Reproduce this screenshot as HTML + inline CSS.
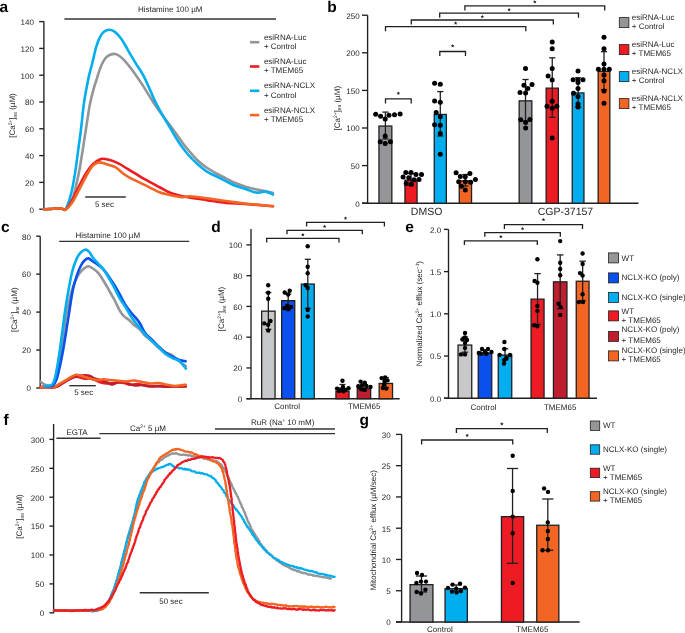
<!DOCTYPE html>
<html><head><meta charset="utf-8"><title>Figure</title>
<style>
html,body{margin:0;padding:0;background:#fff;width:685px;height:633px;overflow:hidden;}
svg{display:block;font-family:"Liberation Sans", sans-serif;text-rendering:geometricPrecision;will-change:transform;}
</style></head><body>
<svg width="685" height="633" viewBox="0 0 685 633" font-family='"Liberation Sans", sans-serif'>
<text x="-0.5" y="12.2" font-size="15.5" text-anchor="start" font-weight="bold" fill="#000">a</text>
<line x1="43.9" y1="21.3" x2="43.9" y2="209.7" stroke="#231f20" stroke-width="1.35" stroke-linecap="butt"/>
<line x1="39.2" y1="209.2" x2="43.9" y2="209.2" stroke="#231f20" stroke-width="1.35" stroke-linecap="butt"/>
<text x="33.9" y="212.5" font-size="8" text-anchor="end" font-weight="normal" fill="#231f20">0</text>
<line x1="39.2" y1="182.4" x2="43.9" y2="182.4" stroke="#231f20" stroke-width="1.35" stroke-linecap="butt"/>
<text x="33.9" y="185.7" font-size="8" text-anchor="end" font-weight="normal" fill="#231f20">20</text>
<line x1="39.2" y1="155.6" x2="43.9" y2="155.6" stroke="#231f20" stroke-width="1.35" stroke-linecap="butt"/>
<text x="33.9" y="158.9" font-size="8" text-anchor="end" font-weight="normal" fill="#231f20">40</text>
<line x1="39.2" y1="128.8" x2="43.9" y2="128.8" stroke="#231f20" stroke-width="1.35" stroke-linecap="butt"/>
<text x="33.9" y="132.1" font-size="8" text-anchor="end" font-weight="normal" fill="#231f20">60</text>
<line x1="39.2" y1="102" x2="43.9" y2="102" stroke="#231f20" stroke-width="1.35" stroke-linecap="butt"/>
<text x="33.9" y="105.3" font-size="8" text-anchor="end" font-weight="normal" fill="#231f20">80</text>
<line x1="39.2" y1="75.2" x2="43.9" y2="75.2" stroke="#231f20" stroke-width="1.35" stroke-linecap="butt"/>
<text x="33.9" y="78.5" font-size="8" text-anchor="end" font-weight="normal" fill="#231f20">100</text>
<line x1="39.2" y1="48.4" x2="43.9" y2="48.4" stroke="#231f20" stroke-width="1.35" stroke-linecap="butt"/>
<text x="33.9" y="51.7" font-size="8" text-anchor="end" font-weight="normal" fill="#231f20">120</text>
<line x1="39.2" y1="21.6" x2="43.9" y2="21.6" stroke="#231f20" stroke-width="1.35" stroke-linecap="butt"/>
<text x="33.9" y="24.9" font-size="8" text-anchor="end" font-weight="normal" fill="#231f20">140</text>
<text transform="translate(15.2,115.5) rotate(-90)" font-size="8" text-anchor="middle" fill="#231f20"><tspan>[Ca</tspan><tspan font-size="4.9" dy="-3">2+</tspan><tspan dy="3">]</tspan><tspan font-size="4.9" dy="1.5">mt</tspan><tspan dy="-1.5"> (µM)</tspan></text>
<line x1="64.4" y1="19" x2="276" y2="19" stroke="#333" stroke-width="1.4" stroke-linecap="butt"/>
<text x="170.2" y="12.4" font-size="8" text-anchor="middle" font-weight="normal" fill="#231f20">Histamine 100 µM</text>
<line x1="85.2" y1="197" x2="125.8" y2="197" stroke="#333" stroke-width="1.4" stroke-linecap="butt"/>
<text x="104.5" y="207" font-size="8" text-anchor="middle" font-weight="normal" fill="#231f20">5 sec</text>
<path d="M44,209.2 C45,209.17 47.75,209.13 50,209 C52.25,208.87 55.5,208.43 57.5,208.4 C59.5,208.37 60.68,208.6 62,208.8 C63.32,209 64.23,210.15 65.4,209.6 C66.57,209.05 68.03,206.85 69,205.5 C69.97,204.15 70.52,202.85 71.2,201.5 C71.88,200.15 72.23,200.25 73.1,197.4 C73.97,194.55 75.32,189.15 76.4,184.4 C77.48,179.65 78.53,174.73 79.6,168.9 C80.67,163.07 81.77,155.88 82.8,149.4 C83.83,142.92 84.97,135.4 85.8,130 C86.63,124.6 87.12,121.3 87.8,117 C88.48,112.7 88.87,109.08 89.9,104.2 C90.93,99.32 92.92,91.73 94,87.7 C95.08,83.67 95.45,83.02 96.4,80 C97.35,76.98 98.55,72.7 99.7,69.6 C100.85,66.5 101.93,63.68 103.3,61.4 C104.67,59.12 105.92,57.13 107.9,55.9 C109.88,54.67 112.9,53.68 115.2,54 C117.5,54.32 119.5,55.95 121.7,57.8 C123.9,59.65 126.17,62.42 128.4,65.1 C130.63,67.78 132.87,70.77 135.1,73.9 C137.33,77.03 139.55,80.43 141.8,83.9 C144.05,87.37 146.35,91.12 148.6,94.7 C150.85,98.28 153.07,102.05 155.3,105.4 C157.53,108.75 159.77,111.78 162,114.8 C164.23,117.82 166.37,120.38 168.7,123.5 C171.03,126.62 173.48,130 176,133.5 C178.52,137 181.47,141.42 183.8,144.5 C186.13,147.58 187.73,149.38 190,152 C192.27,154.62 194.58,157.57 197.4,160.2 C200.22,162.83 203.73,165.58 206.9,167.8 C210.07,170.02 213.23,171.75 216.4,173.5 C219.57,175.25 222.73,176.72 225.9,178.3 C229.07,179.88 232.23,181.65 235.4,183 C238.57,184.35 241.73,185.38 244.9,186.4 C248.07,187.42 251.23,188.37 254.4,189.1 C257.57,189.83 260.8,190.15 263.9,190.8 C267,191.45 271.48,192.63 273,193" fill="none" stroke="#939598" stroke-width="2.6" stroke-linejoin="round" stroke-linecap="round"/>
<path d="M44,209.2 C45,209.17 47.75,209.13 50,209 C52.25,208.87 55.5,208.43 57.5,208.4 C59.5,208.37 60.68,208.6 62,208.8 C63.32,209 64.53,210.1 65.4,209.6 C66.27,209.1 66.68,206.98 67.2,205.8 C67.72,204.62 67.95,204.12 68.5,202.5 C69.05,200.88 69.73,199.12 70.5,196.1 C71.27,193.08 72.23,188.93 73.1,184.4 C73.97,179.87 74.83,174.73 75.7,168.9 C76.57,163.07 77.43,155.88 78.3,149.4 C79.17,142.92 79.98,137.53 80.9,130 C81.82,122.47 82.85,111.25 83.8,104.2 C84.75,97.15 85.68,92.67 86.6,87.7 C87.52,82.73 88.35,78.48 89.3,74.4 C90.25,70.32 91.18,67.67 92.3,63.2 C93.42,58.73 94.77,51.87 96,47.6 C97.23,43.33 98.33,40.27 99.7,37.6 C101.07,34.93 102.57,32.9 104.2,31.6 C105.83,30.3 107.67,29.72 109.5,29.8 C111.33,29.88 113.33,30.73 115.2,32.1 C117.07,33.47 119.05,35.85 120.7,38 C122.35,40.15 123.37,42.05 125.1,45 C126.83,47.95 128.98,52.12 131.1,55.7 C133.22,59.28 135.78,63.25 137.8,66.5 C139.82,69.75 141.4,71.85 143.2,75.2 C145,78.55 146.82,82.68 148.6,86.6 C150.38,90.52 152.12,94.9 153.9,98.7 C155.68,102.5 157.5,106.05 159.3,109.4 C161.1,112.75 162.92,115.77 164.7,118.8 C166.48,121.83 168.2,124.57 170,127.6 C171.8,130.63 173.6,133.92 175.5,137 C177.4,140.08 179.32,143.18 181.4,146.1 C183.48,149.02 185.33,151.52 188,154.5 C190.67,157.48 194.25,161.15 197.4,164 C200.55,166.85 203.73,169.53 206.9,171.6 C210.07,173.67 213.23,174.82 216.4,176.4 C219.57,177.98 222.73,179.53 225.9,181.1 C229.07,182.67 232.23,184.53 235.4,185.8 C238.57,187.07 241.73,187.62 244.9,188.7 C248.07,189.78 251.88,191.67 254.4,192.3 C256.92,192.93 258.07,192.62 260,192.5 C261.93,192.38 263.83,191.25 266,191.6 C268.17,191.95 271.83,194.1 273,194.6" fill="none" stroke="#00aeef" stroke-width="2.6" stroke-linejoin="round" stroke-linecap="round"/>
<path d="M44,209.2 C45,209.17 47.75,209.13 50,209 C52.25,208.87 55.5,208.43 57.5,208.4 C59.5,208.37 60.68,208.6 62,208.8 C63.32,209 63.82,210.85 65.4,209.6 C66.98,208.35 69.32,205.02 71.5,201.3 C73.68,197.58 76.17,191.82 78.5,187.3 C80.83,182.78 83.15,178 85.5,174.2 C87.85,170.4 89.97,167.05 92.6,164.5 C95.23,161.95 98.4,159.63 101.3,158.9 C104.2,158.17 107.08,159.3 110,160.1 C112.92,160.9 115.87,162.23 118.8,163.7 C121.73,165.17 124.67,167.15 127.6,168.9 C130.53,170.65 133.48,172.45 136.4,174.2 C139.32,175.95 141.17,177.18 145.1,179.4 C149.03,181.62 156.02,185.35 160,187.5 C163.98,189.65 165.92,191 169,192.3 C172.08,193.6 175.33,194.48 178.5,195.3 C181.67,196.12 183.27,196.4 188,197.2 C192.73,198 200.58,199.15 206.9,200.1 C213.22,201.05 219.57,202.25 225.9,202.9 C232.23,203.55 237.05,203.45 244.9,204 C252.75,204.55 268.32,205.83 273,206.2" fill="none" stroke="#ed1c24" stroke-width="2.6" stroke-linejoin="round" stroke-linecap="round"/>
<path d="M44,209.2 C45,209.17 47.75,209.13 50,209 C52.25,208.87 55.5,208.43 57.5,208.4 C59.5,208.37 60.68,208.6 62,208.8 C63.32,209 63.67,210.7 65.4,209.6 C67.13,208.5 69.92,205.92 72.4,202.2 C74.88,198.48 77.82,191.97 80.3,187.3 C82.78,182.63 85.25,177.77 87.3,174.2 C89.35,170.63 90.7,167.87 92.6,165.9 C94.5,163.93 96.37,162.68 98.7,162.4 C101.03,162.12 103.83,163.4 106.6,164.2 C109.37,165 112.38,165.53 115.3,167.2 C118.22,168.87 121.17,172.17 124.1,174.2 C127.03,176.23 129.4,177.57 132.9,179.4 C136.4,181.23 140.67,183.05 145.1,185.2 C149.53,187.35 155.52,190.7 159.5,192.3 C163.48,193.9 165.2,193.98 169,194.8 C172.8,195.62 178.82,196.95 182.3,197.2 C185.78,197.45 185.8,196.13 189.9,196.3 C194,196.47 200.9,197.42 206.9,198.2 C212.9,198.98 219.57,200.12 225.9,201 C232.23,201.88 237.05,202.63 244.9,203.5 C252.75,204.37 268.32,205.75 273,206.2" fill="none" stroke="#f26522" stroke-width="2.6" stroke-linejoin="round" stroke-linecap="round"/>
<line x1="250" y1="42.2" x2="259.3" y2="42.2" stroke="#939598" stroke-width="2.6" stroke-linecap="butt"/>
<text x="263.9" y="39.8" font-size="8" text-anchor="start" font-weight="normal" fill="#231f20">esiRNA-Luc</text>
<text x="263.9" y="49.1" font-size="8" text-anchor="start" font-weight="normal" fill="#231f20">+ Control</text>
<line x1="250" y1="66.5" x2="259.3" y2="66.5" stroke="#ed1c24" stroke-width="2.6" stroke-linecap="butt"/>
<text x="263.9" y="64.1" font-size="8" text-anchor="start" font-weight="normal" fill="#231f20">esiRNA-Luc</text>
<text x="263.9" y="73.4" font-size="8" text-anchor="start" font-weight="normal" fill="#231f20">+ TMEM65</text>
<line x1="250" y1="90.8" x2="259.3" y2="90.8" stroke="#00aeef" stroke-width="2.6" stroke-linecap="butt"/>
<text x="263.9" y="88.4" font-size="8" text-anchor="start" font-weight="normal" fill="#231f20">esiRNA-NCLX</text>
<text x="263.9" y="97.7" font-size="8" text-anchor="start" font-weight="normal" fill="#231f20">+ Control</text>
<line x1="250" y1="115.1" x2="259.3" y2="115.1" stroke="#f26522" stroke-width="2.6" stroke-linecap="butt"/>
<text x="263.9" y="112.7" font-size="8" text-anchor="start" font-weight="normal" fill="#231f20">esiRNA-NCLX</text>
<text x="263.9" y="122" font-size="8" text-anchor="start" font-weight="normal" fill="#231f20">+ TMEM65</text>
<text x="327.3" y="12.2" font-size="15.5" text-anchor="start" font-weight="bold" fill="#000">b</text>
<line x1="367.6" y1="15.2" x2="367.6" y2="203.2" stroke="#231f20" stroke-width="1.35" stroke-linecap="butt"/>
<line x1="362" y1="203.2" x2="367.6" y2="203.2" stroke="#231f20" stroke-width="1.35" stroke-linecap="butt"/>
<text x="359.7" y="206.5" font-size="8" text-anchor="end" font-weight="normal" fill="#231f20">0</text>
<line x1="362" y1="165.6" x2="367.6" y2="165.6" stroke="#231f20" stroke-width="1.35" stroke-linecap="butt"/>
<text x="359.7" y="168.9" font-size="8" text-anchor="end" font-weight="normal" fill="#231f20">50</text>
<line x1="362" y1="128" x2="367.6" y2="128" stroke="#231f20" stroke-width="1.35" stroke-linecap="butt"/>
<text x="359.7" y="131.3" font-size="8" text-anchor="end" font-weight="normal" fill="#231f20">100</text>
<line x1="362" y1="90.4" x2="367.6" y2="90.4" stroke="#231f20" stroke-width="1.35" stroke-linecap="butt"/>
<text x="359.7" y="93.7" font-size="8" text-anchor="end" font-weight="normal" fill="#231f20">150</text>
<line x1="362" y1="52.8" x2="367.6" y2="52.8" stroke="#231f20" stroke-width="1.35" stroke-linecap="butt"/>
<text x="359.7" y="56.1" font-size="8" text-anchor="end" font-weight="normal" fill="#231f20">200</text>
<line x1="362" y1="15.2" x2="367.6" y2="15.2" stroke="#231f20" stroke-width="1.35" stroke-linecap="butt"/>
<text x="359.7" y="18.5" font-size="8" text-anchor="end" font-weight="normal" fill="#231f20">250</text>
<line x1="362" y1="203.2" x2="638.5" y2="203.2" stroke="#231f20" stroke-width="1.35" stroke-linecap="butt"/>
<text transform="translate(339.7,108.2) rotate(-90)" font-size="8" text-anchor="middle" fill="#231f20"><tspan>[Ca</tspan><tspan font-size="4.9" dy="-3">2+</tspan><tspan dy="3">]</tspan><tspan font-size="4.9" dy="1.5">mt</tspan><tspan dy="-1.5"> (µM)</tspan></text>
<text x="426.6" y="214.5" font-size="10.5" text-anchor="middle" font-weight="normal" fill="#231f20">DMSO</text>
<text x="565.5" y="214.5" font-size="10.5" text-anchor="middle" font-weight="normal" fill="#231f20">CGP-37157</text>
<rect x="378.95" y="126.05" width="12.9" height="77.15" fill="#939598" stroke="#231f20" stroke-width="1.3"/>
<rect x="404.95" y="180.15" width="12.1" height="23.05" fill="#ed1c24" stroke="#231f20" stroke-width="1.3"/>
<rect x="434.25" y="114.45" width="12.1" height="88.75" fill="#00aeef" stroke="#231f20" stroke-width="1.3"/>
<rect x="459.25" y="180.85" width="12.3" height="22.35" fill="#f26522" stroke="#231f20" stroke-width="1.3"/>
<rect x="519.15" y="100.85" width="12.7" height="102.35" fill="#939598" stroke="#231f20" stroke-width="1.3"/>
<rect x="546.15" y="88.15" width="12.2" height="115.05" fill="#ed1c24" stroke="#231f20" stroke-width="1.3"/>
<rect x="572.25" y="92.95" width="11.7" height="110.25" fill="#00aeef" stroke="#231f20" stroke-width="1.3"/>
<rect x="598.15" y="71.35" width="11.7" height="131.85" fill="#f26522" stroke="#231f20" stroke-width="1.3"/>
<line x1="385.4" y1="112.1" x2="385.4" y2="138.9" stroke="#231f20" stroke-width="1.3" stroke-linecap="butt"/>
<line x1="382.3" y1="112.1" x2="388.5" y2="112.1" stroke="#231f20" stroke-width="1.3" stroke-linecap="butt"/>
<line x1="382.3" y1="138.9" x2="388.5" y2="138.9" stroke="#231f20" stroke-width="1.3" stroke-linecap="butt"/>
<line x1="411" y1="173.5" x2="411" y2="185.5" stroke="#231f20" stroke-width="1.3" stroke-linecap="butt"/>
<line x1="407.9" y1="173.5" x2="414.1" y2="173.5" stroke="#231f20" stroke-width="1.3" stroke-linecap="butt"/>
<line x1="407.9" y1="185.5" x2="414.1" y2="185.5" stroke="#231f20" stroke-width="1.3" stroke-linecap="butt"/>
<line x1="440.3" y1="91.6" x2="440.3" y2="136" stroke="#231f20" stroke-width="1.3" stroke-linecap="butt"/>
<line x1="437.2" y1="91.6" x2="443.4" y2="91.6" stroke="#231f20" stroke-width="1.3" stroke-linecap="butt"/>
<line x1="437.2" y1="136" x2="443.4" y2="136" stroke="#231f20" stroke-width="1.3" stroke-linecap="butt"/>
<line x1="465.4" y1="174.5" x2="465.4" y2="186" stroke="#231f20" stroke-width="1.3" stroke-linecap="butt"/>
<line x1="462.3" y1="174.5" x2="468.5" y2="174.5" stroke="#231f20" stroke-width="1.3" stroke-linecap="butt"/>
<line x1="462.3" y1="186" x2="468.5" y2="186" stroke="#231f20" stroke-width="1.3" stroke-linecap="butt"/>
<line x1="525.5" y1="79.5" x2="525.5" y2="120.9" stroke="#231f20" stroke-width="1.3" stroke-linecap="butt"/>
<line x1="522.4" y1="79.5" x2="528.6" y2="79.5" stroke="#231f20" stroke-width="1.3" stroke-linecap="butt"/>
<line x1="522.4" y1="120.9" x2="528.6" y2="120.9" stroke="#231f20" stroke-width="1.3" stroke-linecap="butt"/>
<line x1="552.25" y1="57.8" x2="552.25" y2="117.3" stroke="#231f20" stroke-width="1.3" stroke-linecap="butt"/>
<line x1="549.15" y1="57.8" x2="555.35" y2="57.8" stroke="#231f20" stroke-width="1.3" stroke-linecap="butt"/>
<line x1="549.15" y1="117.3" x2="555.35" y2="117.3" stroke="#231f20" stroke-width="1.3" stroke-linecap="butt"/>
<line x1="578.1" y1="77.8" x2="578.1" y2="106.8" stroke="#231f20" stroke-width="1.3" stroke-linecap="butt"/>
<line x1="575" y1="77.8" x2="581.2" y2="77.8" stroke="#231f20" stroke-width="1.3" stroke-linecap="butt"/>
<line x1="575" y1="106.8" x2="581.2" y2="106.8" stroke="#231f20" stroke-width="1.3" stroke-linecap="butt"/>
<line x1="604" y1="51.7" x2="604" y2="89.7" stroke="#231f20" stroke-width="1.3" stroke-linecap="butt"/>
<line x1="600.9" y1="51.7" x2="607.1" y2="51.7" stroke="#231f20" stroke-width="1.3" stroke-linecap="butt"/>
<line x1="600.9" y1="89.7" x2="607.1" y2="89.7" stroke="#231f20" stroke-width="1.3" stroke-linecap="butt"/>
<circle cx="375.7" cy="114.2" r="2.5" fill="#000"/>
<circle cx="380.6" cy="116.3" r="2.5" fill="#000"/>
<circle cx="385.2" cy="119" r="2.5" fill="#000"/>
<circle cx="389" cy="115.2" r="2.5" fill="#000"/>
<circle cx="394.5" cy="114.7" r="2.5" fill="#000"/>
<circle cx="400.1" cy="114" r="2.5" fill="#000"/>
<circle cx="385.2" cy="136" r="2.5" fill="#000"/>
<circle cx="380.2" cy="141.7" r="2.5" fill="#000"/>
<circle cx="385.2" cy="143.6" r="2.5" fill="#000"/>
<circle cx="390.4" cy="141.7" r="2.5" fill="#000"/>
<circle cx="405.8" cy="172.5" r="2.5" fill="#000"/>
<circle cx="411" cy="172.5" r="2.5" fill="#000"/>
<circle cx="416" cy="174.5" r="2.5" fill="#000"/>
<circle cx="421.5" cy="174.6" r="2.5" fill="#000"/>
<circle cx="403.1" cy="177" r="2.5" fill="#000"/>
<circle cx="408.8" cy="177.7" r="2.5" fill="#000"/>
<circle cx="414" cy="179.7" r="2.5" fill="#000"/>
<circle cx="419" cy="179.4" r="2.5" fill="#000"/>
<circle cx="406.2" cy="183.6" r="2.5" fill="#000"/>
<circle cx="411.4" cy="184.3" r="2.5" fill="#000"/>
<circle cx="434.6" cy="83.2" r="2.5" fill="#000"/>
<circle cx="440.3" cy="84.2" r="2.5" fill="#000"/>
<circle cx="434.6" cy="101" r="2.5" fill="#000"/>
<circle cx="440.3" cy="102.2" r="2.5" fill="#000"/>
<circle cx="436.2" cy="112.6" r="2.5" fill="#000"/>
<circle cx="440.3" cy="116.8" r="2.5" fill="#000"/>
<circle cx="434.6" cy="124.7" r="2.5" fill="#000"/>
<circle cx="440.3" cy="125.3" r="2.5" fill="#000"/>
<circle cx="440.3" cy="133.5" r="2.5" fill="#000"/>
<circle cx="440.3" cy="154.3" r="2.5" fill="#000"/>
<circle cx="456.1" cy="172.7" r="2.5" fill="#000"/>
<circle cx="469.9" cy="173.5" r="2.5" fill="#000"/>
<circle cx="460.3" cy="176.4" r="2.5" fill="#000"/>
<circle cx="465.3" cy="176.7" r="2.5" fill="#000"/>
<circle cx="475.4" cy="179.4" r="2.5" fill="#000"/>
<circle cx="458.7" cy="181.7" r="2.5" fill="#000"/>
<circle cx="465.3" cy="181.7" r="2.5" fill="#000"/>
<circle cx="470.6" cy="182.3" r="2.5" fill="#000"/>
<circle cx="461.4" cy="186.3" r="2.5" fill="#000"/>
<circle cx="465.3" cy="190" r="2.5" fill="#000"/>
<circle cx="525.5" cy="68.5" r="2.5" fill="#000"/>
<circle cx="523.9" cy="85.3" r="2.5" fill="#000"/>
<circle cx="532" cy="84.5" r="2.5" fill="#000"/>
<circle cx="527.8" cy="88.4" r="2.5" fill="#000"/>
<circle cx="520" cy="92.4" r="2.5" fill="#000"/>
<circle cx="525.6" cy="93" r="2.5" fill="#000"/>
<circle cx="520.7" cy="119.7" r="2.5" fill="#000"/>
<circle cx="529.9" cy="119.4" r="2.5" fill="#000"/>
<circle cx="525.6" cy="122.6" r="2.5" fill="#000"/>
<circle cx="525.6" cy="128" r="2.5" fill="#000"/>
<circle cx="552.2" cy="42" r="2.5" fill="#000"/>
<circle cx="552.2" cy="48.7" r="2.5" fill="#000"/>
<circle cx="552.2" cy="68.5" r="2.5" fill="#000"/>
<circle cx="548.1" cy="75.9" r="2.5" fill="#000"/>
<circle cx="552.2" cy="79.9" r="2.5" fill="#000"/>
<circle cx="552.2" cy="101.2" r="2.5" fill="#000"/>
<circle cx="547" cy="106.2" r="2.5" fill="#000"/>
<circle cx="556.9" cy="106.2" r="2.5" fill="#000"/>
<circle cx="552.2" cy="108.3" r="2.5" fill="#000"/>
<circle cx="552.2" cy="137.9" r="2.5" fill="#000"/>
<circle cx="578" cy="71.1" r="2.5" fill="#000"/>
<circle cx="573.1" cy="79.7" r="2.5" fill="#000"/>
<circle cx="578" cy="79.7" r="2.5" fill="#000"/>
<circle cx="583" cy="79.7" r="2.5" fill="#000"/>
<circle cx="578" cy="82.4" r="2.5" fill="#000"/>
<circle cx="578" cy="88.4" r="2.5" fill="#000"/>
<circle cx="573.5" cy="93.2" r="2.5" fill="#000"/>
<circle cx="578" cy="96.4" r="2.5" fill="#000"/>
<circle cx="578" cy="104" r="2.5" fill="#000"/>
<circle cx="578" cy="107" r="2.5" fill="#000"/>
<circle cx="604" cy="37.2" r="2.5" fill="#000"/>
<circle cx="604" cy="48.7" r="2.5" fill="#000"/>
<circle cx="604" cy="64.1" r="2.5" fill="#000"/>
<circle cx="598.4" cy="69.2" r="2.5" fill="#000"/>
<circle cx="604" cy="69.2" r="2.5" fill="#000"/>
<circle cx="609.3" cy="69.2" r="2.5" fill="#000"/>
<circle cx="604" cy="74.9" r="2.5" fill="#000"/>
<circle cx="604" cy="80.8" r="2.5" fill="#000"/>
<circle cx="604" cy="90.9" r="2.5" fill="#000"/>
<circle cx="604" cy="103.3" r="2.5" fill="#000"/>
<polyline points="385.5,103.5 385.5,98.9 411.2,98.9 411.2,103.5" fill="none" stroke="#231f20" stroke-width="1.3"/>
<polygon points="398.35,91.4 398.85,92.61 400.16,92.71 399.16,93.56 399.47,94.84 398.35,94.15 397.23,94.84 397.54,93.56 396.54,92.71 397.85,92.61" fill="#231f20"/>
<polyline points="439.8,56.1 439.8,51.5 465.5,51.5 465.5,56.1" fill="none" stroke="#231f20" stroke-width="1.3"/>
<polygon points="452.65,44 453.15,45.21 454.46,45.31 453.46,46.16 453.77,47.44 452.65,46.75 451.53,47.44 451.84,46.16 450.84,45.31 452.15,45.21" fill="#231f20"/>
<polyline points="385.5,31.2 385.5,26.6 525.8,26.6 525.8,31.2" fill="none" stroke="#231f20" stroke-width="1.3"/>
<polygon points="455.65,21.3 456.15,22.51 457.46,22.61 456.46,23.46 456.77,24.74 455.65,24.05 454.53,24.74 454.84,23.46 453.84,22.61 455.15,22.51" fill="#231f20"/>
<polyline points="411.3,24.5 411.3,20 553.3,20 553.3,24.5" fill="none" stroke="#231f20" stroke-width="1.3"/>
<polygon points="482.3,14.7 482.8,15.91 484.11,16.01 483.11,16.86 483.42,18.14 482.3,17.45 481.18,18.14 481.49,16.86 480.49,16.01 481.8,15.91" fill="#231f20"/>
<polyline points="439.7,17.7 439.7,13.2 578.5,13.2 578.5,17.7" fill="none" stroke="#231f20" stroke-width="1.3"/>
<polygon points="509.1,7.7 509.6,8.91 510.91,9.01 509.91,9.86 510.22,11.14 509.1,10.45 507.98,11.14 508.29,9.86 507.29,9.01 508.6,8.91" fill="#231f20"/>
<polyline points="464.9,10.4 464.9,5.8 604.7,5.8 604.7,10.4" fill="none" stroke="#231f20" stroke-width="1.3"/>
<polygon points="534.8,0.1 535.3,1.31 536.61,1.41 535.61,2.26 535.92,3.54 534.8,2.85 533.68,3.54 533.99,2.26 532.99,1.41 534.3,1.31" fill="#231f20"/>
<rect x="619.3" y="17.6" width="9.6" height="10" fill="#939598" stroke="#231f20" stroke-width="0.8"/>
<text x="631.8" y="20" font-size="8" text-anchor="start" font-weight="normal" fill="#231f20">esiRNA-Luc</text>
<text x="631.8" y="29.4" font-size="8" text-anchor="start" font-weight="normal" fill="#231f20">+ Control</text>
<rect x="619.3" y="44.6" width="9.6" height="10" fill="#ed1c24" stroke="#231f20" stroke-width="0.8"/>
<text x="631.8" y="47" font-size="8" text-anchor="start" font-weight="normal" fill="#231f20">esiRNA-Luc</text>
<text x="631.8" y="56.4" font-size="8" text-anchor="start" font-weight="normal" fill="#231f20">+ TMEM65</text>
<rect x="619.3" y="71.6" width="9.6" height="10" fill="#00aeef" stroke="#231f20" stroke-width="0.8"/>
<text x="631.8" y="74" font-size="8" text-anchor="start" font-weight="normal" fill="#231f20">esiRNA-NCLX</text>
<text x="631.8" y="83.4" font-size="8" text-anchor="start" font-weight="normal" fill="#231f20">+ Control</text>
<rect x="619.3" y="98.6" width="9.6" height="10" fill="#f26522" stroke="#231f20" stroke-width="0.8"/>
<text x="631.8" y="101" font-size="8" text-anchor="start" font-weight="normal" fill="#231f20">esiRNA-NCLX</text>
<text x="631.8" y="110.4" font-size="8" text-anchor="start" font-weight="normal" fill="#231f20">+ TMEM65</text>
<text x="1" y="231.6" font-size="15.5" text-anchor="start" font-weight="bold" fill="#000">c</text>
<line x1="40.2" y1="236.2" x2="40.2" y2="388.5" stroke="#231f20" stroke-width="1.35" stroke-linecap="butt"/>
<line x1="36.2" y1="388" x2="40.2" y2="388" stroke="#231f20" stroke-width="1.35" stroke-linecap="butt"/>
<text x="30.9" y="391.3" font-size="8" text-anchor="end" font-weight="normal" fill="#231f20">0</text>
<line x1="36.2" y1="350.05" x2="40.2" y2="350.05" stroke="#231f20" stroke-width="1.35" stroke-linecap="butt"/>
<text x="30.9" y="353.35" font-size="8" text-anchor="end" font-weight="normal" fill="#231f20">20</text>
<line x1="36.2" y1="312.1" x2="40.2" y2="312.1" stroke="#231f20" stroke-width="1.35" stroke-linecap="butt"/>
<text x="30.9" y="315.4" font-size="8" text-anchor="end" font-weight="normal" fill="#231f20">40</text>
<line x1="36.2" y1="274.15" x2="40.2" y2="274.15" stroke="#231f20" stroke-width="1.35" stroke-linecap="butt"/>
<text x="30.9" y="277.45" font-size="8" text-anchor="end" font-weight="normal" fill="#231f20">60</text>
<line x1="36.2" y1="236.2" x2="40.2" y2="236.2" stroke="#231f20" stroke-width="1.35" stroke-linecap="butt"/>
<text x="30.9" y="239.5" font-size="8" text-anchor="end" font-weight="normal" fill="#231f20">80</text>
<text transform="translate(17,309.7) rotate(-90)" font-size="8" text-anchor="middle" fill="#231f20"><tspan>[Ca</tspan><tspan font-size="4.9" dy="-3">2+</tspan><tspan dy="3">]</tspan><tspan font-size="4.9" dy="1.5">mt</tspan><tspan dy="-1.5"> (µM)</tspan></text>
<line x1="59.2" y1="241.4" x2="189.2" y2="241.4" stroke="#333" stroke-width="1.2" stroke-linecap="butt"/>
<text x="107.8" y="237.6" font-size="8" text-anchor="middle" font-weight="normal" fill="#231f20">Histamine 100 µM</text>
<line x1="69.3" y1="385.7" x2="95.8" y2="385.7" stroke="#333" stroke-width="1.4" stroke-linecap="butt"/>
<text x="83.7" y="395" font-size="8" text-anchor="middle" font-weight="normal" fill="#231f20">5 sec</text>
<path d="M40.5,387.1 C41.75,387.12 45.5,387.2 48,387.2 C50.5,387.2 52.88,387.88 55.5,387.1 C58.12,386.32 61.28,383.93 63.7,382.5 C66.12,381.07 68.12,379.5 70,378.5 C71.88,377.5 73.33,376.67 75,376.5 C76.67,376.33 78.38,377.13 80,377.5 C81.62,377.87 83.2,378.53 84.7,378.7 C86.2,378.87 87.25,378.28 89,378.5 C90.75,378.72 93.37,379.37 95.2,380 C97.03,380.63 98.2,381.72 100,382.3 C101.8,382.88 104,383.33 106,383.5 C108,383.67 110,383.47 112,383.3 C114,383.13 116,382.55 118,382.5 C120,382.45 122,382.62 124,383 C126,383.38 127.83,384.63 130,384.8 C132.17,384.97 134.5,383.88 137,384 C139.5,384.12 142.5,385.12 145,385.5 C147.5,385.88 149.5,386.22 152,386.3 C154.5,386.38 157.33,385.97 160,386 C162.67,386.03 165.33,386.42 168,386.5 C170.67,386.58 173.05,386.5 176,386.5 C178.95,386.5 184.08,386.5 185.7,386.5" fill="none" stroke="#ed1c24" stroke-width="2.6" stroke-linejoin="round" stroke-linecap="round"/>
<path d="M40.5,387.1 C41.75,387.12 45.5,387.2 48,387.2 C50.5,387.2 52.88,387.88 55.5,387.1 C58.12,386.32 60.78,384.1 63.7,382.5 C66.62,380.9 70.28,378.62 73,377.5 C75.72,376.38 78.05,376.18 80,375.8 C81.95,375.42 83.13,375.2 84.7,375.2 C86.27,375.2 87.65,375.22 89.4,375.8 C91.15,376.38 92.87,377.83 95.2,378.7 C97.53,379.57 101.27,380.32 103.4,381 C105.53,381.68 106.63,382.22 108,382.8 C109.37,383.38 110.27,384.47 111.6,384.5 C112.93,384.53 114.27,383.5 116,383 C117.73,382.5 120,381.42 122,381.5 C124,381.58 125.83,382.83 128,383.5 C130.17,384.17 132.67,385.25 135,385.5 C137.33,385.75 139.5,384.87 142,385 C144.5,385.13 147.33,386.1 150,386.3 C152.67,386.5 155.33,386.15 158,386.2 C160.67,386.25 163.17,386.55 166,386.6 C168.83,386.65 171.72,386.55 175,386.5 C178.28,386.45 183.92,386.33 185.7,386.3" fill="none" stroke="#be1e2d" stroke-width="2.6" stroke-linejoin="round" stroke-linecap="round"/>
<path d="M40.5,387.1 C41.75,387.1 45.62,387.1 48,387.1 C50.38,387.1 53.23,387.43 54.8,387.1 C56.37,386.77 55.67,386.18 57.4,385.1 C59.13,384.02 62.82,382 65.2,380.6 C67.58,379.2 69.87,377.67 71.7,376.7 C73.53,375.73 74.48,374.9 76.2,374.8 C77.92,374.7 80.03,375.57 82,376.1 C83.97,376.63 85.6,377.33 88,378 C90.4,378.67 93.83,379.88 96.4,380.1 C98.97,380.32 101.13,379.32 103.4,379.3 C105.67,379.28 107.57,379.75 110,380 C112.43,380.25 115.33,380.55 118,380.8 C120.67,381.05 123.33,381.55 126,381.5 C128.67,381.45 131.33,380.42 134,380.5 C136.67,380.58 139.33,381.5 142,382 C144.67,382.5 147.33,383.33 150,383.5 C152.67,383.67 155.33,382.83 158,383 C160.67,383.17 163.17,384 166,384.5 C168.83,385 172.5,385.88 175,386 C177.5,386.12 179.22,385.4 181,385.2 C182.78,385 184.92,384.87 185.7,384.8" fill="none" stroke="#f26522" stroke-width="2.6" stroke-linejoin="round" stroke-linecap="round"/>
<path d="M40.5,381.6 C41.17,382.08 43.18,383.8 44.5,384.5 C45.82,385.2 47.15,385.63 48.4,385.8 C49.65,385.97 50.9,386.3 52,385.5 C53.1,384.7 54,383.58 55,381 C56,378.42 57.08,374.33 58,370 C58.92,365.67 59.62,360.33 60.5,355 C61.38,349.67 62.45,344 63.3,338 C64.15,332 64.68,324.8 65.6,319 C66.52,313.2 67.6,308.47 68.8,303.2 C70,297.93 71.35,291.88 72.8,287.4 C74.25,282.92 75.93,279.2 77.5,276.3 C79.07,273.4 80.95,271.42 82.2,270 C83.45,268.58 83.97,268.43 85,267.8 C86.03,267.17 87.07,266.08 88.4,266.2 C89.73,266.32 91.33,267.33 93,268.5 C94.67,269.67 96.6,271.08 98.4,273.2 C100.2,275.32 102,278.3 103.8,281.2 C105.6,284.1 107.42,287.47 109.2,290.6 C110.98,293.73 112.72,296.63 114.5,300 C116.28,303.37 118.33,308.12 119.9,310.8 C121.47,313.48 122.33,314.53 123.9,316.1 C125.47,317.67 127.5,318.63 129.3,320.2 C131.1,321.77 132.92,323.95 134.7,325.5 C136.48,327.05 138.27,327.8 140,329.5 C141.73,331.2 143.12,333.78 145.1,335.7 C147.08,337.62 149.65,339 151.9,341 C154.15,343 156.37,345.78 158.6,347.7 C160.83,349.62 163.28,351.37 165.3,352.5 C167.32,353.63 168.92,353.5 170.7,354.5 C172.48,355.5 174.28,357.17 176,358.5 C177.72,359.83 179.38,361.25 181,362.5 C182.62,363.75 184.92,365.42 185.7,366" fill="none" stroke="#939598" stroke-width="2.6" stroke-linejoin="round" stroke-linecap="round"/>
<path d="M44.5,386.2 C45.42,386.2 48.5,386.38 50,386.2 C51.5,386.02 52.37,386.35 53.5,385.1 C54.63,383.85 55.72,381.93 56.8,378.7 C57.88,375.47 58.92,370.67 60,365.7 C61.08,360.73 62.22,354.95 63.3,348.9 C64.38,342.85 65.43,336.05 66.5,329.4 C67.57,322.75 68.65,315.57 69.7,309 C70.75,302.43 71.63,295.53 72.8,290 C73.97,284.47 75.38,279.8 76.7,275.8 C78.02,271.8 79.4,268.55 80.7,266 C82,263.45 83.22,261.77 84.5,260.5 C85.78,259.23 86.98,258.23 88.4,258.4 C89.82,258.57 91.33,260.38 93,261.5 C94.67,262.62 96.6,263.72 98.4,265.1 C100.2,266.48 102,267.78 103.8,269.8 C105.6,271.82 107.42,274.62 109.2,277.2 C110.98,279.78 112.72,282.38 114.5,285.3 C116.28,288.22 118.1,291.47 119.9,294.7 C121.7,297.93 123.52,301.8 125.3,304.7 C127.08,307.6 128.82,309.85 130.6,312.1 C132.38,314.35 134.43,316.3 136,318.2 C137.57,320.1 138.48,321.03 140,323.5 C141.52,325.97 143.12,330.3 145.1,333 C147.08,335.7 149.65,337.47 151.9,339.7 C154.15,341.93 156.37,344.27 158.6,346.4 C160.83,348.53 163.07,350.82 165.3,352.5 C167.53,354.18 169.77,355.28 172,356.5 C174.23,357.72 176.87,359.08 178.7,359.8 C180.53,360.52 181.83,360.57 183,360.8 C184.17,361.03 185.25,361.13 185.7,361.2" fill="none" stroke="#0a50ee" stroke-width="2.6" stroke-linejoin="round" stroke-linecap="round"/>
<path d="M44.5,386.2 C45.15,386.13 47.12,386.08 48.4,385.8 C49.68,385.52 51.13,385.68 52.2,384.5 C53.27,383.32 53.93,381.83 54.8,378.7 C55.67,375.57 56.53,370.67 57.4,365.7 C58.27,360.73 59.13,354.95 60,348.9 C60.87,342.85 61.73,335.88 62.6,329.4 C63.47,322.92 64.17,316.82 65.2,310 C66.23,303.18 67.67,294.75 68.8,288.5 C69.93,282.25 70.82,277.17 72,272.5 C73.18,267.83 74.58,263.68 75.9,260.5 C77.22,257.32 78.38,255.2 79.9,253.4 C81.42,251.6 83.48,249.98 85,249.7 C86.52,249.42 87.67,250.37 89,251.7 C90.33,253.03 91.43,255.68 93,257.7 C94.57,259.72 96.6,261.78 98.4,263.8 C100.2,265.82 102,267.33 103.8,269.8 C105.6,272.27 107.42,275.57 109.2,278.6 C110.98,281.63 112.72,284.65 114.5,288 C116.28,291.35 118.12,295.62 119.9,298.7 C121.68,301.78 123.35,303.53 125.2,306.5 C127.05,309.47 129.03,313.5 131,316.5 C132.97,319.5 134.65,321.53 137,324.5 C139.35,327.47 142.62,331.55 145.1,334.3 C147.58,337.05 149.65,338.87 151.9,341 C154.15,343.13 156.37,344.97 158.6,347.1 C160.83,349.23 163.07,352.02 165.3,353.8 C167.53,355.58 169.77,356.68 172,357.8 C174.23,358.92 177.13,359.6 178.7,360.5 C180.27,361.4 180.38,362.08 181.4,363.2 C182.42,364.32 184.05,366.3 184.8,367.2 C185.55,368.1 185.72,368.37 185.9,368.6" fill="none" stroke="#00aeef" stroke-width="2.6" stroke-linejoin="round" stroke-linecap="round"/>
<text x="211.3" y="231.7" font-size="15.5" text-anchor="start" font-weight="bold" fill="#000">d</text>
<line x1="251" y1="229" x2="251" y2="398.7" stroke="#231f20" stroke-width="1.35" stroke-linecap="butt"/>
<line x1="246.4" y1="398.7" x2="251" y2="398.7" stroke="#231f20" stroke-width="1.35" stroke-linecap="butt"/>
<text x="242.1" y="402" font-size="8" text-anchor="end" font-weight="normal" fill="#231f20">0</text>
<line x1="246.4" y1="367.94" x2="251" y2="367.94" stroke="#231f20" stroke-width="1.35" stroke-linecap="butt"/>
<text x="242.1" y="371.24" font-size="8" text-anchor="end" font-weight="normal" fill="#231f20">20</text>
<line x1="246.4" y1="337.18" x2="251" y2="337.18" stroke="#231f20" stroke-width="1.35" stroke-linecap="butt"/>
<text x="242.1" y="340.48" font-size="8" text-anchor="end" font-weight="normal" fill="#231f20">40</text>
<line x1="246.4" y1="306.42" x2="251" y2="306.42" stroke="#231f20" stroke-width="1.35" stroke-linecap="butt"/>
<text x="242.1" y="309.72" font-size="8" text-anchor="end" font-weight="normal" fill="#231f20">60</text>
<line x1="246.4" y1="275.66" x2="251" y2="275.66" stroke="#231f20" stroke-width="1.35" stroke-linecap="butt"/>
<text x="242.1" y="278.96" font-size="8" text-anchor="end" font-weight="normal" fill="#231f20">80</text>
<line x1="246.4" y1="244.9" x2="251" y2="244.9" stroke="#231f20" stroke-width="1.35" stroke-linecap="butt"/>
<text x="242.1" y="248.2" font-size="8" text-anchor="end" font-weight="normal" fill="#231f20">100</text>
<line x1="246.4" y1="398.7" x2="399.7" y2="398.7" stroke="#231f20" stroke-width="1.35" stroke-linecap="butt"/>
<text transform="translate(224,309) rotate(-90)" font-size="8" text-anchor="middle" fill="#231f20"><tspan>[Ca</tspan><tspan font-size="4.9" dy="-3">2+</tspan><tspan dy="3">]</tspan><tspan font-size="4.9" dy="1.5">mt</tspan><tspan dy="-1.5"> (µM)</tspan></text>
<text x="287.2" y="409.4" font-size="8" text-anchor="middle" font-weight="normal" fill="#231f20">Control</text>
<text x="364.2" y="409.4" font-size="8" text-anchor="middle" font-weight="normal" fill="#231f20">TMEM65</text>
<rect x="261.65" y="311.15" width="13.4" height="87.55" fill="#c7c8ca" stroke="#231f20" stroke-width="1.3"/>
<rect x="281.65" y="300.65" width="13.1" height="98.05" fill="#0a50ee" stroke="#231f20" stroke-width="1.3"/>
<rect x="301.35" y="284.05" width="12.9" height="114.65" fill="#00aeef" stroke="#231f20" stroke-width="1.3"/>
<rect x="335.95" y="391.25" width="13.1" height="7.45" fill="#ed1c24" stroke="#231f20" stroke-width="1.3"/>
<rect x="357.25" y="388.65" width="13.4" height="10.05" fill="#be1e2d" stroke="#231f20" stroke-width="1.3"/>
<rect x="379.15" y="383.45" width="13.4" height="15.25" fill="#f26522" stroke="#231f20" stroke-width="1.3"/>
<line x1="268.35" y1="292.5" x2="268.35" y2="329.3" stroke="#231f20" stroke-width="1.3" stroke-linecap="butt"/>
<line x1="265.35" y1="292.5" x2="271.35" y2="292.5" stroke="#231f20" stroke-width="1.3" stroke-linecap="butt"/>
<line x1="265.35" y1="329.3" x2="271.35" y2="329.3" stroke="#231f20" stroke-width="1.3" stroke-linecap="butt"/>
<line x1="288.2" y1="294.2" x2="288.2" y2="305.8" stroke="#231f20" stroke-width="1.3" stroke-linecap="butt"/>
<line x1="285.2" y1="294.2" x2="291.2" y2="294.2" stroke="#231f20" stroke-width="1.3" stroke-linecap="butt"/>
<line x1="285.2" y1="305.8" x2="291.2" y2="305.8" stroke="#231f20" stroke-width="1.3" stroke-linecap="butt"/>
<line x1="307.8" y1="259.3" x2="307.8" y2="308.2" stroke="#231f20" stroke-width="1.3" stroke-linecap="butt"/>
<line x1="304.8" y1="259.3" x2="310.8" y2="259.3" stroke="#231f20" stroke-width="1.3" stroke-linecap="butt"/>
<line x1="304.8" y1="308.2" x2="310.8" y2="308.2" stroke="#231f20" stroke-width="1.3" stroke-linecap="butt"/>
<line x1="342.5" y1="384.5" x2="342.5" y2="391.5" stroke="#231f20" stroke-width="1.3" stroke-linecap="butt"/>
<line x1="339.5" y1="384.5" x2="345.5" y2="384.5" stroke="#231f20" stroke-width="1.3" stroke-linecap="butt"/>
<line x1="339.5" y1="391.5" x2="345.5" y2="391.5" stroke="#231f20" stroke-width="1.3" stroke-linecap="butt"/>
<line x1="363.95" y1="383.5" x2="363.95" y2="391" stroke="#231f20" stroke-width="1.3" stroke-linecap="butt"/>
<line x1="360.95" y1="383.5" x2="366.95" y2="383.5" stroke="#231f20" stroke-width="1.3" stroke-linecap="butt"/>
<line x1="360.95" y1="391" x2="366.95" y2="391" stroke="#231f20" stroke-width="1.3" stroke-linecap="butt"/>
<line x1="385.85" y1="377.5" x2="385.85" y2="387.5" stroke="#231f20" stroke-width="1.3" stroke-linecap="butt"/>
<line x1="382.85" y1="377.5" x2="388.85" y2="377.5" stroke="#231f20" stroke-width="1.3" stroke-linecap="butt"/>
<line x1="382.85" y1="387.5" x2="388.85" y2="387.5" stroke="#231f20" stroke-width="1.3" stroke-linecap="butt"/>
<circle cx="268.2" cy="285.3" r="2.2" fill="#000"/>
<circle cx="268.2" cy="292.7" r="2.2" fill="#000"/>
<circle cx="268.2" cy="298.8" r="2.2" fill="#000"/>
<circle cx="264.3" cy="323.4" r="2.2" fill="#000"/>
<circle cx="270.5" cy="321" r="2.2" fill="#000"/>
<circle cx="268.2" cy="324.7" r="2.2" fill="#000"/>
<circle cx="268.2" cy="330.6" r="2.2" fill="#000"/>
<circle cx="284.7" cy="292.5" r="2.2" fill="#000"/>
<circle cx="289.7" cy="290.8" r="2.2" fill="#000"/>
<circle cx="288.2" cy="294.5" r="2.2" fill="#000"/>
<circle cx="284.4" cy="308.2" r="2.2" fill="#000"/>
<circle cx="287.3" cy="305.6" r="2.2" fill="#000"/>
<circle cx="288.4" cy="309.2" r="2.2" fill="#000"/>
<circle cx="291" cy="307" r="2.2" fill="#000"/>
<circle cx="307.7" cy="246.2" r="2.2" fill="#000"/>
<circle cx="307.7" cy="266.7" r="2.2" fill="#000"/>
<circle cx="307.7" cy="273.3" r="2.2" fill="#000"/>
<circle cx="305.7" cy="285.3" r="2.2" fill="#000"/>
<circle cx="307.7" cy="287.9" r="2.2" fill="#000"/>
<circle cx="307.7" cy="310" r="2.2" fill="#000"/>
<circle cx="307.7" cy="316.5" r="2.2" fill="#000"/>
<circle cx="342.5" cy="380.8" r="2.2" fill="#000"/>
<circle cx="337" cy="388.6" r="2.2" fill="#000"/>
<circle cx="340" cy="389.5" r="2.2" fill="#000"/>
<circle cx="343" cy="387" r="2.2" fill="#000"/>
<circle cx="345.5" cy="390" r="2.2" fill="#000"/>
<circle cx="348.5" cy="388.3" r="2.2" fill="#000"/>
<circle cx="339" cy="391" r="2.2" fill="#000"/>
<circle cx="343.5" cy="391.3" r="2.2" fill="#000"/>
<circle cx="360.6" cy="381.6" r="2.2" fill="#000"/>
<circle cx="364.7" cy="382.8" r="2.2" fill="#000"/>
<circle cx="358.3" cy="386.3" r="2.2" fill="#000"/>
<circle cx="362" cy="385.5" r="2.2" fill="#000"/>
<circle cx="366.5" cy="386" r="2.2" fill="#000"/>
<circle cx="370.5" cy="386.9" r="2.2" fill="#000"/>
<circle cx="364.7" cy="389.8" r="2.2" fill="#000"/>
<circle cx="361" cy="389" r="2.2" fill="#000"/>
<circle cx="381.6" cy="378.1" r="2.2" fill="#000"/>
<circle cx="385.1" cy="377.5" r="2.2" fill="#000"/>
<circle cx="387.5" cy="380.4" r="2.2" fill="#000"/>
<circle cx="384.5" cy="381" r="2.2" fill="#000"/>
<circle cx="382.8" cy="388" r="2.2" fill="#000"/>
<circle cx="386.3" cy="388.6" r="2.2" fill="#000"/>
<circle cx="384" cy="384.5" r="2.2" fill="#000"/>
<polyline points="266.7,242.4 266.7,238.4 339,238.4 339,242.4" fill="none" stroke="#231f20" stroke-width="1.3"/>
<polygon points="302.85,232.9 303.35,234.11 304.66,234.21 303.66,235.06 303.97,236.34 302.85,235.65 301.73,236.34 302.04,235.06 301.04,234.21 302.35,234.11" fill="#231f20"/>
<polyline points="287,234.3 287,230.3 362.3,230.3 362.3,234.3" fill="none" stroke="#231f20" stroke-width="1.3"/>
<polygon points="324.65,224.6 325.15,225.81 326.46,225.91 325.46,226.76 325.77,228.04 324.65,227.35 323.53,228.04 323.84,226.76 322.84,225.91 324.15,225.81" fill="#231f20"/>
<polyline points="306.6,226.4 306.6,222.3 384.4,222.3 384.4,226.4" fill="none" stroke="#231f20" stroke-width="1.3"/>
<polygon points="345.5,216.2 346,217.41 347.31,217.51 346.31,218.36 346.62,219.64 345.5,218.95 344.38,219.64 344.69,218.36 343.69,217.51 345,217.41" fill="#231f20"/>
<text x="405.3" y="232" font-size="15.5" text-anchor="start" font-weight="bold" fill="#000">e</text>
<line x1="448.5" y1="229.4" x2="448.5" y2="398.2" stroke="#231f20" stroke-width="1.35" stroke-linecap="butt"/>
<line x1="444" y1="398.2" x2="448.5" y2="398.2" stroke="#231f20" stroke-width="1.35" stroke-linecap="butt"/>
<text x="441.1" y="401.5" font-size="8" text-anchor="end" font-weight="normal" fill="#231f20">0.0</text>
<line x1="444" y1="356" x2="448.5" y2="356" stroke="#231f20" stroke-width="1.35" stroke-linecap="butt"/>
<text x="441.1" y="359.3" font-size="8" text-anchor="end" font-weight="normal" fill="#231f20">0.5</text>
<line x1="444" y1="313.8" x2="448.5" y2="313.8" stroke="#231f20" stroke-width="1.35" stroke-linecap="butt"/>
<text x="441.1" y="317.1" font-size="8" text-anchor="end" font-weight="normal" fill="#231f20">1.0</text>
<line x1="444" y1="271.6" x2="448.5" y2="271.6" stroke="#231f20" stroke-width="1.35" stroke-linecap="butt"/>
<text x="441.1" y="274.9" font-size="8" text-anchor="end" font-weight="normal" fill="#231f20">1.5</text>
<line x1="444" y1="229.4" x2="448.5" y2="229.4" stroke="#231f20" stroke-width="1.35" stroke-linecap="butt"/>
<text x="441.1" y="232.7" font-size="8" text-anchor="end" font-weight="normal" fill="#231f20">2.0</text>
<line x1="444" y1="398.2" x2="597" y2="398.2" stroke="#231f20" stroke-width="1.35" stroke-linecap="butt"/>
<text transform="translate(421.6,313.6) rotate(-90)" font-size="8" text-anchor="middle" fill="#231f20"><tspan>Normalized Ca</tspan><tspan font-size="4.9" dy="-3">2+</tspan><tspan dy="3"> efflux (sec</tspan><tspan font-size="4.9" dy="-3">−1</tspan><tspan dy="3">)</tspan></text>
<text x="483.5" y="409.6" font-size="8" text-anchor="middle" font-weight="normal" fill="#231f20">Control</text>
<text x="560.2" y="409.6" font-size="8" text-anchor="middle" font-weight="normal" fill="#231f20">TMEM65</text>
<rect x="458.05" y="345.05" width="13.7" height="53.15" fill="#c7c8ca" stroke="#231f20" stroke-width="1.3"/>
<rect x="478.25" y="353.05" width="13.5" height="45.15" fill="#0a50ee" stroke="#231f20" stroke-width="1.3"/>
<rect x="498.25" y="355.05" width="13.5" height="43.15" fill="#00aeef" stroke="#231f20" stroke-width="1.3"/>
<rect x="531.05" y="299.15" width="13" height="99.05" fill="#ed1c24" stroke="#231f20" stroke-width="1.3"/>
<rect x="553.45" y="281.85" width="13.5" height="116.35" fill="#be1e2d" stroke="#231f20" stroke-width="1.3"/>
<rect x="576.25" y="281.25" width="12.8" height="116.95" fill="#f26522" stroke="#231f20" stroke-width="1.3"/>
<line x1="464.9" y1="337" x2="464.9" y2="352.2" stroke="#231f20" stroke-width="1.3" stroke-linecap="butt"/>
<line x1="461.7" y1="337" x2="468.1" y2="337" stroke="#231f20" stroke-width="1.3" stroke-linecap="butt"/>
<line x1="461.7" y1="352.2" x2="468.1" y2="352.2" stroke="#231f20" stroke-width="1.3" stroke-linecap="butt"/>
<line x1="485" y1="349.8" x2="485" y2="355" stroke="#231f20" stroke-width="1.3" stroke-linecap="butt"/>
<line x1="481.8" y1="349.8" x2="488.2" y2="349.8" stroke="#231f20" stroke-width="1.3" stroke-linecap="butt"/>
<line x1="481.8" y1="355" x2="488.2" y2="355" stroke="#231f20" stroke-width="1.3" stroke-linecap="butt"/>
<line x1="505" y1="348.8" x2="505" y2="360" stroke="#231f20" stroke-width="1.3" stroke-linecap="butt"/>
<line x1="501.8" y1="348.8" x2="508.2" y2="348.8" stroke="#231f20" stroke-width="1.3" stroke-linecap="butt"/>
<line x1="501.8" y1="360" x2="508.2" y2="360" stroke="#231f20" stroke-width="1.3" stroke-linecap="butt"/>
<line x1="537.55" y1="273.6" x2="537.55" y2="324.4" stroke="#231f20" stroke-width="1.3" stroke-linecap="butt"/>
<line x1="534.35" y1="273.6" x2="540.75" y2="273.6" stroke="#231f20" stroke-width="1.3" stroke-linecap="butt"/>
<line x1="534.35" y1="324.4" x2="540.75" y2="324.4" stroke="#231f20" stroke-width="1.3" stroke-linecap="butt"/>
<line x1="560.2" y1="254.9" x2="560.2" y2="308.7" stroke="#231f20" stroke-width="1.3" stroke-linecap="butt"/>
<line x1="557" y1="254.9" x2="563.4" y2="254.9" stroke="#231f20" stroke-width="1.3" stroke-linecap="butt"/>
<line x1="557" y1="308.7" x2="563.4" y2="308.7" stroke="#231f20" stroke-width="1.3" stroke-linecap="butt"/>
<line x1="582.65" y1="261.2" x2="582.65" y2="300.5" stroke="#231f20" stroke-width="1.3" stroke-linecap="butt"/>
<line x1="579.45" y1="261.2" x2="585.85" y2="261.2" stroke="#231f20" stroke-width="1.3" stroke-linecap="butt"/>
<line x1="579.45" y1="300.5" x2="585.85" y2="300.5" stroke="#231f20" stroke-width="1.3" stroke-linecap="butt"/>
<circle cx="465" cy="333" r="2.2" fill="#000"/>
<circle cx="465" cy="337.5" r="2.2" fill="#000"/>
<circle cx="462.4" cy="339.5" r="2.2" fill="#000"/>
<circle cx="467" cy="340" r="2.2" fill="#000"/>
<circle cx="465" cy="343" r="2.2" fill="#000"/>
<circle cx="465" cy="348" r="2.2" fill="#000"/>
<circle cx="461" cy="354.4" r="2.2" fill="#000"/>
<circle cx="465" cy="354.4" r="2.2" fill="#000"/>
<circle cx="478.8" cy="353" r="2.2" fill="#000"/>
<circle cx="482" cy="349" r="2.2" fill="#000"/>
<circle cx="485" cy="352" r="2.2" fill="#000"/>
<circle cx="488" cy="349" r="2.2" fill="#000"/>
<circle cx="491.5" cy="352" r="2.2" fill="#000"/>
<circle cx="480.5" cy="353.5" r="2.2" fill="#000"/>
<circle cx="486.5" cy="353.5" r="2.2" fill="#000"/>
<circle cx="504.4" cy="342" r="2.2" fill="#000"/>
<circle cx="504.4" cy="349" r="2.2" fill="#000"/>
<circle cx="499.6" cy="355" r="2.2" fill="#000"/>
<circle cx="510" cy="355" r="2.2" fill="#000"/>
<circle cx="504.4" cy="360" r="2.2" fill="#000"/>
<circle cx="504" cy="363.6" r="2.2" fill="#000"/>
<circle cx="506.6" cy="358" r="2.2" fill="#000"/>
<circle cx="537.4" cy="259.3" r="2.2" fill="#000"/>
<circle cx="534.6" cy="281" r="2.2" fill="#000"/>
<circle cx="537.4" cy="282.7" r="2.2" fill="#000"/>
<circle cx="537.4" cy="306" r="2.2" fill="#000"/>
<circle cx="537.4" cy="310.9" r="2.2" fill="#000"/>
<circle cx="534.1" cy="325.3" r="2.2" fill="#000"/>
<circle cx="537.4" cy="326.2" r="2.2" fill="#000"/>
<circle cx="560.2" cy="241.1" r="2.2" fill="#000"/>
<circle cx="560.2" cy="262.8" r="2.2" fill="#000"/>
<circle cx="560.2" cy="269" r="2.2" fill="#000"/>
<circle cx="560.2" cy="275.3" r="2.2" fill="#000"/>
<circle cx="558.5" cy="303.8" r="2.2" fill="#000"/>
<circle cx="560.6" cy="307.1" r="2.2" fill="#000"/>
<circle cx="560.2" cy="314.9" r="2.2" fill="#000"/>
<circle cx="582.6" cy="253.5" r="2.2" fill="#000"/>
<circle cx="582.6" cy="264" r="2.2" fill="#000"/>
<circle cx="580" cy="273.1" r="2.2" fill="#000"/>
<circle cx="582.6" cy="275.6" r="2.2" fill="#000"/>
<circle cx="582.6" cy="294.3" r="2.2" fill="#000"/>
<circle cx="578.9" cy="302.1" r="2.2" fill="#000"/>
<circle cx="583" cy="302.1" r="2.2" fill="#000"/>
<polyline points="464.4,245.1 464.4,240.9 537.3,240.9 537.3,245.1" fill="none" stroke="#231f20" stroke-width="1.3"/>
<polygon points="500.85,234.8 501.35,236.01 502.66,236.11 501.66,236.96 501.97,238.24 500.85,237.55 499.73,238.24 500.04,236.96 499.04,236.11 500.35,236.01" fill="#231f20"/>
<polyline points="484.8,236.8 484.8,232.6 560.3,232.6 560.3,236.8" fill="none" stroke="#231f20" stroke-width="1.3"/>
<polygon points="522.55,226.7 523.05,227.91 524.36,228.01 523.36,228.86 523.67,230.14 522.55,229.45 521.43,230.14 521.74,228.86 520.74,228.01 522.05,227.91" fill="#231f20"/>
<polyline points="504.4,228.9 504.4,224.7 582.5,224.7 582.5,228.9" fill="none" stroke="#231f20" stroke-width="1.3"/>
<polygon points="543.45,217.8 543.95,219.01 545.26,219.11 544.26,219.96 544.57,221.24 543.45,220.55 542.33,221.24 542.64,219.96 541.64,219.11 542.95,219.01" fill="#231f20"/>
<rect x="608.6" y="252.9" width="10" height="10" fill="#939598" stroke="#231f20" stroke-width="0.8"/>
<text x="621.6" y="260.5" font-size="8" text-anchor="start" font-weight="normal" fill="#231f20">WT</text>
<rect x="608.6" y="272.9" width="10" height="10" fill="#0a50ee" stroke="#231f20" stroke-width="0.8"/>
<text x="621.6" y="280" font-size="8" text-anchor="start" font-weight="normal" fill="#231f20">NCLX-KO (poly)</text>
<rect x="608.6" y="292.4" width="10" height="10" fill="#00aeef" stroke="#231f20" stroke-width="0.8"/>
<text x="621.6" y="299.6" font-size="8" text-anchor="start" font-weight="normal" fill="#231f20">NCLX-KO (single)</text>
<rect x="608.6" y="310.9" width="10" height="10" fill="#ed1c24" stroke="#231f20" stroke-width="0.8"/>
<text x="621.6" y="313.9" font-size="8" text-anchor="start" font-weight="normal" fill="#231f20">WT</text>
<text x="621.6" y="323.2" font-size="8" text-anchor="start" font-weight="normal" fill="#231f20">+ TMEM65</text>
<rect x="608.6" y="331.4" width="10" height="10" fill="#be1e2d" stroke="#231f20" stroke-width="0.8"/>
<text x="621.6" y="332.4" font-size="8" text-anchor="start" font-weight="normal" fill="#231f20">NCLX-KO (poly)</text>
<text x="621.6" y="342.7" font-size="8" text-anchor="start" font-weight="normal" fill="#231f20">+ TMEM65</text>
<rect x="608.6" y="350.9" width="10" height="10" fill="#f26522" stroke="#231f20" stroke-width="0.8"/>
<text x="621.6" y="353" font-size="8" text-anchor="start" font-weight="normal" fill="#231f20">NCLX-KO (single)</text>
<text x="621.6" y="362.2" font-size="8" text-anchor="start" font-weight="normal" fill="#231f20">+ TMEM65</text>
<text x="3.5" y="424.5" font-size="15.5" text-anchor="start" font-weight="bold" fill="#000">f</text>
<line x1="53.6" y1="424" x2="53.6" y2="613.3" stroke="#231f20" stroke-width="1.35" stroke-linecap="butt"/>
<line x1="49.4" y1="612.8" x2="53.6" y2="612.8" stroke="#231f20" stroke-width="1.35" stroke-linecap="butt"/>
<text x="44.1" y="616.1" font-size="8" text-anchor="end" font-weight="normal" fill="#231f20">0</text>
<line x1="49.4" y1="583.9" x2="53.6" y2="583.9" stroke="#231f20" stroke-width="1.35" stroke-linecap="butt"/>
<text x="44.1" y="587.2" font-size="8" text-anchor="end" font-weight="normal" fill="#231f20">50</text>
<line x1="49.4" y1="555" x2="53.6" y2="555" stroke="#231f20" stroke-width="1.35" stroke-linecap="butt"/>
<text x="44.1" y="558.3" font-size="8" text-anchor="end" font-weight="normal" fill="#231f20">100</text>
<line x1="49.4" y1="526.1" x2="53.6" y2="526.1" stroke="#231f20" stroke-width="1.35" stroke-linecap="butt"/>
<text x="44.1" y="529.4" font-size="8" text-anchor="end" font-weight="normal" fill="#231f20">150</text>
<line x1="49.4" y1="497.2" x2="53.6" y2="497.2" stroke="#231f20" stroke-width="1.35" stroke-linecap="butt"/>
<text x="44.1" y="500.5" font-size="8" text-anchor="end" font-weight="normal" fill="#231f20">200</text>
<line x1="49.4" y1="468.3" x2="53.6" y2="468.3" stroke="#231f20" stroke-width="1.35" stroke-linecap="butt"/>
<text x="44.1" y="471.6" font-size="8" text-anchor="end" font-weight="normal" fill="#231f20">250</text>
<line x1="49.4" y1="439.4" x2="53.6" y2="439.4" stroke="#231f20" stroke-width="1.35" stroke-linecap="butt"/>
<text x="44.1" y="442.7" font-size="8" text-anchor="end" font-weight="normal" fill="#231f20">300</text>
<text transform="translate(22.3,516.5) rotate(-90)" font-size="8" text-anchor="middle" fill="#231f20"><tspan>[Ca</tspan><tspan font-size="4.9" dy="-3">2+</tspan><tspan dy="3">]</tspan><tspan font-size="4.9" dy="1.5">mt</tspan><tspan dy="-1.5"> (µM)</tspan></text>
<line x1="56.4" y1="438.2" x2="100.6" y2="438.2" stroke="#333" stroke-width="1.4" stroke-linecap="butt"/>
<text x="77" y="435" font-size="8" text-anchor="middle" font-weight="normal" fill="#231f20">EGTA</text>
<line x1="99.4" y1="433.6" x2="335" y2="433.6" stroke="#333" stroke-width="1.4" stroke-linecap="butt"/>
<text x="130" y="430.6" font-size="8" text-anchor="start" font-weight="normal" fill="#231f20"><tspan>Ca</tspan><tspan font-size="4.9" dy="-3">2+</tspan><tspan dy="3"> 5 µM</tspan></text>
<line x1="215" y1="429" x2="335" y2="429" stroke="#333" stroke-width="1.4" stroke-linecap="butt"/>
<text x="251" y="425" font-size="8" text-anchor="start" font-weight="normal" fill="#231f20"><tspan>RuR (Na</tspan><tspan font-size="4.9" dy="-3">+</tspan><tspan dy="3"> 10 mM)</tspan></text>
<line x1="139.7" y1="592.8" x2="208.8" y2="592.8" stroke="#333" stroke-width="1.4" stroke-linecap="butt"/>
<text x="171" y="604.2" font-size="8" text-anchor="middle" font-weight="normal" fill="#231f20">50 sec</text>
<path d="M53.88,610.34 L54.56,610.41 L55.49,609.95 L56.19,610.67 L57.39,610.15 L58.87,610.4 L59.96,610.43 L61.01,610.16 L62.06,610.83 L63.01,610.74 L64.08,610.14 L65.12,610.64 L65.91,610.15 L67.16,610.56 L68.1,610.93 L69.1,610.98 L69.95,610.87 L70.98,610.99 L72.17,610.23 L72.84,610.32 L74.21,610.51 L75.06,610.37 L76,610.43 L76.93,610.59 L78.04,610.86 L79.08,610.87 L80.17,610.91 L81.09,610.15 L82.19,610.86 L83.21,610.49 L84.12,610.16 L85.17,610.47 L85.9,610.01 L87.27,610.85 L88.02,610.7 L89.26,610.15 L90.29,610.73 L91.63,610.08 L92.59,610.06 L93.7,610.25 L94.85,610.74 L95.76,610.67 L96.76,609.73 L97.96,609.53 L98.82,609.67 L100,609.16 L100.69,609.43 L101.7,609.08 L102.78,608.07 L103.37,607.66 L104.21,607.11 L104.92,606.41 L105.83,605.48 L106.37,604.7 L106.78,603.64 L107.6,603.11 L107.9,601.89 L108.33,601.6 L108.64,600.78 L109.4,599.38 L109.89,598.8 L110.4,597.7 L110.91,596.99 L111.09,595.27 L111.88,594.92 L112.01,593.67 L112.48,592.73 L112.7,591.88 L113.03,591.26 L113.32,590.17 L113.86,588.94 L114.09,588.63 L114.3,587.21 L114.85,586.25 L114.9,585.43 L115.45,584.12 L115.61,583.31 L116.16,582.37 L116.49,581.08 L116.58,580.46 L117.15,579.22 L117.18,577.86 L117.59,577.01 L117.98,576.66 L117.97,575.22 L118.52,574.59 L118.79,573.36 L118.76,572.34 L119.33,571.34 L119.39,570.48 L119.7,569.47 L120.19,568.23 L120.05,567.93 L120.71,566.95 L120.78,565.89 L121.27,564.2 L121.46,563.72 L121.69,562.39 L121.79,561.19 L122.03,559.9 L122.47,559.05 L122.84,557.79 L123.13,557.42 L123.39,556.63 L123.63,555.36 L123.48,554.52 L123.8,553.12 L124.27,552.31 L124.41,551.67 L124.75,550.11 L124.84,549.56 L125.19,548.46 L125.38,546.92 L125.72,546.45 L125.8,545.41 L126.39,544.41 L126.6,542.69 L126.76,542.46 L126.75,540.94 L127.1,540.19 L127.42,539.18 L127.83,537.8 L127.75,536.98 L128.03,536.01 L128.72,535.61 L128.63,534.2 L129.04,532.95 L129.37,532.17 L129.79,530.85 L129.92,529.76 L130.21,528.93 L130.79,527.74 L130.81,526.54 L131.25,525.91 L131.74,524.71 L132.05,523.95 L132.18,522.75 L132.5,522.09 L132.75,521.13 L133.05,519.8 L133.35,519.28 L133.41,518.13 L133.89,517.4 L134.43,515.84 L134.71,515.14 L134.71,513.8 L134.92,513.09 L135.43,512.15 L135.76,510.96 L135.99,509.88 L135.97,508.93 L136.18,507.57 L136.79,506.51 L136.76,505.6 L137.39,504.69 L137.29,504.31 L137.62,503.32 L138.16,502.32 L138.58,501.09 L138.81,499.6 L139.09,499.03 L139.37,497.68 L139.68,497.44 L139.67,495.92 L140.2,495.4 L140.36,493.87 L140.67,493.32 L141.2,492.2 L141.33,491.29 L141.63,490.43 L141.9,489.4 L142.68,488.24 L142.96,486.96 L143.31,486.46 L143.69,485.23 L143.99,484.35 L144.57,482.93 L144.61,482.51 L145.4,481.36 L145.62,480.61 L145.96,479.29 L146.49,478.59 L147.1,477.3 L147.85,477 L148.26,475.84 L148.92,475.07 L149.6,473.65 L150.04,472.56 L150.75,472.03 L151.19,471.18 L151.82,470.75 L152.4,469.96 L153.19,468.65 L153.81,467.94 L154.58,466.8 L155.04,466.09 L155.84,464.97 L156.43,464.68 L156.99,463.26 L157.7,462.86 L158.76,462.28 L159.72,460.88 L160.31,460.18 L161.19,459.91 L162.35,459.45 L162.89,458.83 L163.97,457.69 L165.14,456.74 L165.81,456.84 L166.87,455.88 L168.04,455.66 L168.68,454.91 L169.79,454.6 L170.63,454.26 L171.93,453.72 L172.76,453.21 L173.7,453.55 L174.59,453.75 L175.96,453.15 L177.02,453.6 L178.02,454.18 L178.88,454.36 L180.11,454.7 L180.99,454.83 L182.35,454.87 L183.2,454.47 L184.23,454.76 L185.37,455.13 L186.34,454.77 L187.42,455.28 L188.26,455.65 L189.51,455.13 L190.68,455.35 L191.45,456.09 L192.62,456.17 L193.68,456.32 L194.57,456.29 L195.51,456.99 L196.86,457.04 L197.9,457.07 L198.74,457.28 L200.06,457.17 L200.94,457.55 L202.09,457.85 L202.92,458.11 L204.03,458.68 L204.94,458.99 L205.81,458.73 L206.79,458.85 L208.09,459.67 L208.83,459.45 L209.96,460.22 L211.21,460.46 L212.22,460.1 L213.26,460.33 L214.45,460.87 L215.41,460.85 L216.73,461 L217.74,462.25 L218.62,462.31 L219.23,463.08 L220.03,464.09 L220.78,464.19 L221.57,465.12 L222.14,466.15 L222.53,467.05 L223.47,467.69 L223.96,468.5 L224.33,469.45 L224.75,470.35 L225.5,471.27 L225.92,472.73 L226.53,473.01 L226.95,474.49 L227.1,475.31 L227.68,476.12 L228.23,477.77 L228.55,478.6 L229.13,478.84 L229.62,480.18 L230.07,481.21 L230.42,481.81 L230.88,483.3 L231.35,483.83 L231.76,484.86 L231.94,485.47 L232.41,486.63 L232.87,487.78 L233.56,488.7 L233.88,489.7 L234.29,490.44 L234.96,491.31 L235.18,492.69 L235.9,493.15 L236.23,494.26 L236.82,494.95 L237.04,495.92 L237.87,496.85 L238.21,497.91 L238.57,498.9 L239.07,499.8 L239.31,500.66 L239.79,501.94 L240.15,502.46 L240.74,503.76 L241.27,504.4 L241.55,505.69 L241.79,507.18 L242.3,507.37 L242.83,508.42 L243.31,509.57 L243.5,510.28 L244.18,511.46 L244.62,512.6 L245.09,513.42 L245.2,514.36 L245.86,515.67 L246.05,516.18 L246.61,517.97 L246.98,518.11 L247.13,519.19 L247.6,520.15 L247.95,521.7 L248.74,522.27 L249.18,523.49 L249.51,524.84 L249.97,524.97 L250.09,526.39 L250.79,526.79 L250.91,528.31 L251.39,528.99 L252.05,530.29 L252.88,530.82 L253.36,532.27 L253.97,533.02 L254.57,533.74 L254.91,534.5 L255.64,535.59 L255.97,536.17 L256.74,537.42 L257.29,538.1 L257.74,538.77 L258.38,539.52 L258.8,541.04 L259.42,541.3 L259.74,542.82 L260.45,543.68 L261.1,544.13 L261.67,545.2 L261.99,545.68 L262.47,546.51 L263.51,547.04 L263.99,547.83 L264.43,549.08 L265.18,549.28 L265.84,550.56 L266.75,550.72 L267.32,552.3 L268.08,552.66 L268.95,553.59 L269.84,554.34 L270.65,554.55 L271.35,555.22 L272.35,555.87 L272.7,557.27 L273.5,557.85 L274.19,558.12 L275,559.1 L275.94,559.59 L276.79,560.46 L277.41,560.87 L278.28,561.08 L279.3,562.16 L280.17,562.44 L280.94,563.29 L281.95,563.54 L282.73,564.49 L283.42,565.01 L284.55,565.36 L285.36,565.98 L286.04,566.2 L287.29,566.63 L287.94,566.84 L288.77,567.35 L290.03,568.28 L290.96,568.93 L291.8,569.29 L292.73,569.22 L293.89,570.05 L294.87,570.06 L295.78,570.36 L296.86,571.19 L297.53,571.55 L298.46,571.14 L299.63,571.63 L300.49,572.24 L301.24,572.63 L302.32,572.63 L303.34,573.18 L304.51,573.03 L305.22,573.3 L306.36,573.35 L307.25,574.21 L308.5,574.64 L309.62,574.78 L310.34,574.36 L311.3,574.85 L312.36,575.13 L313.25,575.62 L314.16,575.47 L315.36,575.98 L316.01,575.67 L317.34,575.69 L318.17,576.38 L319.5,576.28 L320.45,576.52 L321.93,576.97 L323.18,577.45 L324.31,576.97 L325.04,577.13 L326.21,577.59 L327.03,577.93 L327.98,577.87 L328.9,578.45 L329.74,578.08 L330.24,578.34 L331.06,578.66" fill="none" stroke="#939598" stroke-width="2.3" stroke-linejoin="round" stroke-linecap="round"/>
<path d="M53.88,609.94 L54.57,610.01 L55.24,610.25 L56.6,610.64 L57.62,610.14 L58.66,610.22 L59.67,610.1 L60.82,610.86 L62.15,610.78 L63.14,610.24 L63.91,610.65 L65.1,610.87 L66.17,610.2 L67.05,610.74 L68,610.3 L68.99,610.23 L70.2,610.93 L71.02,610.42 L72.18,610.65 L73.17,610.89 L74,610.49 L75.04,610.48 L75.85,610.35 L77.14,610.1 L77.8,610.61 L78.9,610.51 L80,610.32 L81.24,610.16 L81.99,610.14 L83.09,610.19 L83.96,610.61 L84.94,610.44 L86.18,610.04 L86.91,610.22 L88.33,610.67 L89.18,610.54 L90.24,610.78 L91.26,611.08 L92.71,611.35 L93.71,611.31 L94.46,610.6 L95.97,610.88 L96.8,610.84 L97.97,610.47 L98.86,609.61 L99.93,609.2 L100.85,609.52 L101.71,608.2 L102.4,607.85 L103.52,607.48 L104.05,606.63 L105.11,606.22 L105.5,605.07 L106.2,604.2 L106.97,603.5 L107.18,603.09 L107.76,602.78 L108.2,601.55 L108.98,600.59 L109.56,599.76 L109.72,598.75 L110.11,597.76 L110.7,597.12 L111.45,595.66 L111.59,594.28 L112.01,593.45 L112.32,593.23 L112.6,591.64 L113.28,591.24 L113.63,590.19 L113.92,589.5 L114.19,588.64 L114.38,587.1 L114.58,586.82 L115.22,585.87 L115.29,584.62 L115.82,583.59 L116.15,582.45 L116.4,581.55 L116.55,580.71 L117.18,578.88 L117.51,578.62 L117.65,576.88 L118.02,576.02 L118.33,575.57 L118.19,574.17 L118.72,573.56 L119.04,572.91 L119.07,571.1 L119.65,570.11 L119.9,569.21 L120.14,568.8 L120.44,567.57 L120.71,566.24 L120.88,565.33 L121.25,564.7 L121.33,563.44 L121.4,561.96 L121.93,561.32 L122.32,560.39 L122.27,559.12 L122.82,558.22 L122.73,557.55 L123.34,555.9 L123.47,555.18 L123.82,554.13 L123.83,553.28 L124.41,551.92 L124.27,551.38 L124.87,550.27 L124.92,549.55 L125.32,547.82 L125.62,546.91 L125.61,546.47 L125.92,545.42 L126.05,544.47 L126.31,542.82 L126.7,541.99 L126.97,541.51 L127.3,539.72 L127.37,539.24 L127.7,538.45 L127.94,536.94 L128.09,536.71 L128.44,535.54 L129.03,534.33 L129.2,533.24 L129.36,532.46 L129.74,531.42 L129.98,530.35 L130.51,529.1 L130.67,527.67 L131.13,526.87 L131.4,525.67 L131.44,524.7 L132.07,523.75 L132.41,522.95 L132.55,521.95 L132.85,520.75 L133.03,520.54 L133.2,519.31 L133.52,518.02 L133.65,516.73 L134.31,516.42 L134.48,515.35 L134.78,513.72 L134.83,512.97 L135.04,512.32 L135.33,511.31 L135.24,509.99 L135.69,509.05 L135.86,508.12 L135.92,507.21 L136.17,505.94 L136.6,505.07 L136.54,503.71 L136.77,503.16 L137.29,502.52 L137.26,501.21 L137.79,499.94 L137.95,498.59 L138.21,498.01 L138.8,497.06 L139.02,496.39 L139.51,494.72 L139.64,494.53 L140.43,493.57 L140.63,492.13 L140.77,491.19 L141.21,490.89 L141.88,489.85 L141.94,488.37 L142.39,488.02 L142.71,486.89 L143.32,485.7 L143.83,484.48 L144.02,483.45 L144.22,482.41 L144.72,481.59 L145.02,481.5 L145.55,480.56 L146.19,479.61 L146.75,478.85 L147.47,477.71 L147.96,476.79 L148.68,475.8 L149.25,474.62 L150.07,474.14 L150.39,473.12 L151.42,472.51 L151.85,472.26 L153.03,471.12 L153.78,470.5 L154.58,470.32 L155.54,469.87 L156.57,468.67 L157.86,468.79 L158.55,468.1 L159.63,467.86 L160.46,467.61 L161.81,467.17 L162.77,467.04 L163.55,466.61 L164.83,465.96 L165.65,465.5 L167.17,464.74 L168.18,464.85 L169.22,463.78 L170.16,463.88 L171.3,464.53 L171.81,465.39 L172.74,465.68 L173.95,466.85 L174.83,467.16 L175.69,467.3 L176.72,467.44 L178,467.57 L178.72,468.18 L180.02,468.29 L181.14,468.27 L182.01,468.34 L183.31,469.29 L184.32,468.76 L185.49,469.57 L186.32,469.01 L187.51,469.77 L188.46,469.47 L189.55,469.76 L190.48,470.17 L191.47,471.17 L192.68,471.45 L193.52,471.4 L194.7,471.4 L195.66,472.53 L196.86,472.67 L197.7,472.73 L198.96,472.94 L199.84,472.65 L200.7,473.49 L202.15,473.15 L203.12,473.52 L204.11,474.16 L205.05,474.19 L206.09,474.34 L207.06,474.38 L208.22,475.29 L209.17,475.54 L210.11,476.24 L211.06,476.02 L211.95,477.43 L212.99,478.12 L213.73,478.2 L214.47,479.35 L215.58,479.97 L216.08,481.51 L216.69,482.37 L217.45,482.79 L218.29,483.9 L218.7,484.68 L219.43,485.43 L220.04,486.37 L220.79,486.79 L221.41,487.86 L222.22,489.43 L222.91,489.72 L223.64,490.44 L223.86,492.07 L224.75,492.78 L225.33,493.19 L225.86,494.75 L226.32,495.85 L226.64,496.23 L227.21,497.42 L227.96,498.38 L228.44,499.42 L229.27,500.33 L229.52,500.66 L230.21,501.57 L230.98,502.35 L231.61,503.28 L232.1,504.4 L232.97,504.72 L233.31,506.23 L233.86,506.16 L234.46,507.69 L235.32,508.61 L235.83,508.59 L236.37,509.99 L237.03,510.25 L237.64,511.34 L238.26,512.12 L238.78,512.56 L239.69,514.03 L240.15,514.35 L240.71,515.65 L241.54,516.45 L242.13,517.38 L242.32,518.39 L243.07,519.33 L243.67,519.77 L244.1,521.44 L244.52,521.74 L245.09,522.92 L245.76,523.9 L246.4,524.7 L246.83,526.06 L247.48,527.19 L248.22,527.44 L248.51,528.55 L249.17,529.25 L249.88,529.94 L250.27,530.71 L251.02,531.96 L251.63,532.37 L252.07,533.59 L252.34,534.59 L253.27,534.72 L253.91,536.22 L254.37,536.86 L254.83,537.27 L255.53,538.83 L256.02,539.3 L256.66,540.31 L257.57,541.29 L257.88,541.67 L258.36,542.55 L259.36,543.61 L259.69,544.1 L260.38,544.94 L261.45,545.66 L262.11,547.09 L262.79,547.23 L263.53,548.67 L264.25,548.62 L264.49,549.61 L265.41,550.43 L266.05,551.45 L267.07,552.17 L267.75,552.77 L268.61,552.99 L269.35,553.72 L270.18,555.02 L271.42,555.46 L272.09,556.17 L272.74,556.74 L273.47,557.57 L274.29,557.97 L275.28,558.24 L276.02,558.77 L277.1,559.51 L277.91,559.85 L278.88,560.37 L279.77,561.37 L280.78,561.85 L281.8,562.03 L283.01,562.97 L283.76,563.59 L284.53,563.4 L285.37,563.74 L286.3,564.09 L287.22,564.59 L288.23,564.81 L289.38,565.09 L290.48,565.84 L291.25,566.19 L292.21,565.83 L293.61,566.08 L294.2,567.13 L295.24,567.24 L296.54,567.15 L297.44,568.12 L298.55,567.77 L299.5,568.47 L300.37,568.15 L301.54,568.42 L302.16,568.59 L303.53,569.22 L304.38,569.58 L305.45,569.63 L306.14,570.17 L306.96,570.13 L308.28,570.55 L309.15,571.12 L310.11,571.17 L311.08,570.83 L312.07,571.18 L312.9,571.48 L313.94,571.88 L315.21,572.39 L316.27,572.24 L317.2,573 L318.16,573.29 L319.15,573.56 L320.65,573.89 L321.81,573.93 L322.82,574.23 L324.21,574.38 L325.28,574.98 L326.3,574.73 L327.33,575.49 L328.7,575.56 L329.58,575.38 L330.69,576.24 L331.57,576.05 L332.45,576.63 L333.09,576.83 L333.71,576.84 L334.62,576.77" fill="none" stroke="#00aeef" stroke-width="2.3" stroke-linejoin="round" stroke-linecap="round"/>
<path d="M54.06,610.52 L54.75,610.71 L55.55,610.72 L56.2,610.33 L57.7,610.53 L58.83,610.08 L59.8,610.22 L60.97,610.54 L61.78,610.25 L62.9,610.89 L64.12,610.23 L65.13,610.23 L66.05,610.23 L66.78,610.92 L67.87,610.34 L69.22,610.93 L69.91,611.02 L71.02,610.76 L71.87,610.99 L73.09,611 L74.18,610.38 L74.94,610.25 L75.84,610.14 L76.91,610.61 L77.78,610.66 L78.93,610.32 L80.15,610.46 L80.93,610.46 L82.12,610.07 L83.24,610.03 L84.14,610.76 L84.8,610.69 L85.94,610.47 L86.88,609.96 L88.04,610.73 L89.12,610.51 L90.52,610.62 L91.33,610.03 L92.5,610.33 L93.42,610.22 L94.74,610.27 L95.44,610.32 L96.53,609.76 L97.82,610.25 L98.76,610.18 L99.88,609.49 L100.77,609.15 L101.61,608.78 L102.78,609.12 L103.4,607.77 L104.59,607.64 L105.13,606.74 L105.99,606.55 L106.69,605.39 L107.26,604.95 L107.99,603.59 L108.84,602.56 L109.26,602.54 L109.68,601.6 L109.89,600.44 L110.36,599.93 L110.86,598.67 L111.62,598.09 L112.04,596.76 L112.26,596.01 L112.7,594.6 L113.11,593.43 L113.54,593.14 L114.17,591.97 L114.32,590.86 L114.49,589.94 L115.16,589.61 L115.33,588.66 L115.87,587.68 L116.18,586.83 L116.41,585.84 L116.73,584.69 L117.32,583.88 L117.47,583.08 L118.01,581.7 L118.1,580.57 L118.59,579.54 L119.08,578.49 L119.44,577.62 L119.59,576.61 L120.05,575.87 L120.16,574.94 L120.69,573.84 L121.04,573.1 L121.14,571.71 L121.28,570.97 L121.93,569.61 L122.13,568.79 L122.45,567.25 L122.78,566.56 L123.03,565.37 L123.32,564.63 L123.62,563.54 L123.64,561.99 L124.12,561.4 L124.3,560.42 L124.77,558.85 L124.97,558.04 L125.04,557 L125.42,556.11 L125.67,554.88 L126.08,554.1 L126.44,553.21 L126.55,552.44 L126.72,550.95 L127.11,549.92 L127.3,549.28 L127.68,547.55 L128.04,546.6 L128.26,545.82 L128.52,545.38 L128.88,543.9 L129.12,543.12 L129.16,541.67 L129.51,541.06 L129.91,540.43 L130,538.87 L130.38,537.55 L130.27,537.05 L130.74,535.65 L130.98,535.3 L131.1,533.86 L131.27,532.71 L131.83,531.77 L132.05,531.23 L132.12,529.62 L132.52,528.82 L132.49,527.64 L132.97,526.79 L132.89,525.78 L133.04,524.92 L133.42,523.64 L133.8,523.14 L133.7,521.92 L134.05,521.33 L134.53,519.77 L134.58,518.65 L135.18,517.75 L135.3,516.9 L135.6,516.02 L135.93,514.59 L136.23,513.78 L136.43,512.84 L136.61,512.06 L136.99,510.95 L137.41,510.21 L137.39,508.96 L137.88,508.62 L138.37,507.35 L138.28,506.62 L138.77,505.5 L139.19,504.62 L139.41,503.87 L139.7,502.4 L140.23,501.22 L140.31,500.79 L140.54,499.8 L141.16,498.44 L141.31,497.76 L141.92,496.21 L142.06,495.6 L142.4,494.44 L142.57,493.72 L143.19,492.32 L143.25,492.08 L143.82,491.03 L143.79,490.2 L144.6,489.36 L144.85,487.43 L145.29,486.53 L145.57,486.16 L145.96,484.4 L146.14,484.11 L146.43,482.85 L146.91,481.49 L147.37,480.45 L147.5,479.84 L147.84,478.66 L148.43,478.42 L149.06,476.77 L149.35,475.88 L149.92,475.03 L150.56,473.96 L150.66,473.31 L151.19,472.35 L151.84,471.71 L152.34,470.58 L152.69,469.65 L153.23,468.86 L153.88,467.36 L154.29,466.66 L155.05,465.59 L155.57,465.16 L155.8,464.33 L156.32,463.04 L157.04,462.36 L157.81,461.6 L158.17,460.94 L158.63,460 L159.24,458.65 L160.26,458.36 L160.58,457.15 L161.71,456.94 L162.44,455.89 L163.19,455.57 L163.91,455.04 L165.05,454.46 L165.84,453.69 L167,453.52 L167.99,452.67 L169.04,452.11 L169.95,451.57 L171.01,450.91 L171.69,450.14 L172.7,449.74 L173.98,449.78 L174.88,449.05 L175.72,449.65 L176.75,449.14 L177.66,448.88 L178.51,449.1 L179.59,449.56 L180.81,449.65 L181.51,450.05 L182.45,450.31 L183.65,450.71 L184.72,451.32 L186.03,451.55 L187.33,451.55 L188.39,452.1 L189.19,452.16 L190.24,452.52 L191.4,452.43 L192.12,452.7 L193.11,453.14 L194.16,454.33 L195.12,454.1 L196.15,454.44 L197.25,455.2 L197.99,455.14 L199.2,456.14 L200.17,456.04 L201.29,456.01 L201.84,457.06 L202.96,456.74 L203.98,457.94 L204.94,457.71 L205.72,457.81 L207.06,458.54 L208.06,458.49 L208.73,458.84 L209.79,459.21 L210.71,459.9 L211.71,460 L212.58,461.25 L213.65,461.24 L214.75,461.7 L215.59,462 L216.54,462.77 L217.79,463.49 L218.47,463.75 L218.77,464.63 L219.62,465.29 L220.19,466.06 L220.94,467.19 L221.34,467.84 L222.15,468.95 L222.09,469.74 L222.34,470.92 L222.93,471.32 L222.87,471.97 L223.17,472.88 L223.5,474.26 L223.66,474.78 L224.1,475.78 L224.11,477.03 L224.42,477.92 L224.68,479.19 L225.05,480.51 L225.34,481.7 L225.5,482.75 L225.57,484.09 L225.84,485.1 L226.03,485.76 L225.98,486.77 L226.18,487.07 L226.19,488.03 L226.42,489.42 L226.57,489.82 L226.93,491.22 L226.74,491.74 L226.92,493 L227.39,494.54 L227.42,494.91 L227.49,496.07 L227.59,496.81 L227.86,498.61 L228.08,499.04 L228.16,500.22 L228.41,501.6 L228.7,503.07 L228.47,503.53 L228.98,504.57 L228.91,505.49 L229.22,506.88 L229.28,507.88 L229.47,508.07 L229.73,509.35 L229.56,510.86 L229.72,511.51 L230.1,512.81 L230.23,513.24 L230.36,514.26 L230.66,515.44 L230.92,516.38 L230.91,517.44 L231.37,519.02 L231.49,519.87 L231.45,520.49 L231.82,521.85 L231.62,522.6 L231.81,524.13 L232.33,524.69 L232.44,525.83 L232.54,527.33 L232.66,528.27 L232.69,528.6 L232.9,530.18 L232.89,531.08 L233.09,531.84 L233.22,533.25 L233.43,534.64 L233.53,535.99 L233.84,537.04 L233.91,537.91 L233.97,539.13 L234.02,540.04 L234.28,541.06 L234.22,541.73 L234.26,543.04 L234.6,544.46 L234.77,545.08 L234.99,546.06 L235.01,546.87 L235.14,548.37 L235.35,549.51 L235.34,550.37 L235.48,551.04 L235.35,551.8 L235.78,552.37 L236.02,554.04 L235.95,554.85 L236.14,556.2 L236.44,557.95 L236.74,558.74 L236.68,559.26 L236.99,560.6 L237.19,561.34 L237.45,562.09 L237.38,563.02 L237.72,564.49 L237.73,565.17 L238.22,565.75 L238.15,567.11 L238.75,568.41 L238.97,569 L239.09,570.1 L239.58,570.88 L239.58,572.13 L240.17,572.73 L240.05,573.65 L240.6,575.07 L240.76,575.69 L241.28,577.11 L241.69,578.21 L241.75,578.96 L242.46,580.39 L242.6,581.31 L243.14,582.42 L243.35,583.26 L244.03,584.11 L244.12,584.9 L244.57,585.83 L244.99,587.3 L245.41,588.4 L246.13,589.38 L246.6,590.17 L247.09,591.21 L247.59,592.34 L248.01,592.61 L248.64,593.7 L249.45,594.85 L250.26,595.98 L250.68,596.49 L251.59,597.22 L252.11,598.13 L252.94,598.87 L253.86,599.86 L254.83,599.66 L255.5,600.75 L256.12,600.65 L257.19,601.26 L258.54,602.16 L259.95,602.01 L260.76,602.56 L261.72,602.62 L262.38,602.58 L263.57,602.92 L264.2,603 L265.31,603.38 L266.3,603.19 L267.41,603.53 L268.92,603.75 L269.78,604.25 L270.78,603.88 L272.25,603.71 L273.36,604.16 L274.15,604.2 L275.45,604.45 L276.56,604.28 L277.47,605.23 L278.61,604.89 L279.48,604.83 L280.9,605.3 L281.73,604.82 L282.71,605.57 L283.75,605.5 L284.99,605.63 L285.9,605.16 L286.66,605.9 L287.86,606.07 L289.07,606.18 L289.9,606.33 L291.1,606.3 L291.85,606.26 L293.01,606.5 L294.29,605.88 L295.06,605.99 L296.11,606.07 L297.21,605.98 L297.98,606.33 L298.93,606.32 L300.29,606.82 L300.96,606.09 L302.23,606.98 L303.12,606.28 L303.96,607.02 L305.28,606.26 L305.96,606.65 L307.03,606.98 L308.12,607.03 L309.09,606.83 L310.55,607.03 L311.27,606.52 L312.66,606.79 L313.51,606.9 L314.64,607.36 L315.57,607.02 L316.71,607.01 L318.09,606.66 L319.17,607.18 L320.16,607.26 L321.57,607.03 L322.88,607.29 L323.84,607.04 L325.03,606.94 L326.35,606.62 L327.47,607.02 L328.73,607.45 L329.65,607.1 L330.8,607.47 L331.83,607.52 L332.39,606.79 L333.44,606.71 L333.9,607.31 L334.51,607" fill="none" stroke="#f26522" stroke-width="2.3" stroke-linejoin="round" stroke-linecap="round"/>
<path d="M54.13,610.59 L54.61,610.1 L55.21,610.48 L56.4,610.6 L57.44,610.64 L58.55,610.7 L59.92,610.37 L60.96,610.64 L61.86,610.55 L63.14,610.31 L64.14,610.7 L65.15,610.41 L65.82,610.84 L67.14,610.53 L67.82,610.32 L69.06,610.41 L70.2,610.68 L70.87,610.74 L71.94,610.98 L73.18,610.59 L74.07,610.74 L75.14,610.98 L75.79,610.4 L77.05,610.34 L78.04,610.13 L79.2,610.51 L79.92,610.63 L81.09,610.2 L82.24,610.14 L83.16,610.79 L84.37,610.01 L85.32,609.99 L85.92,610.76 L87.26,610.16 L87.99,610.15 L88.69,610.59 L89.8,609.93 L90.98,609.83 L92.06,609.63 L93.12,610.14 L94.08,610.05 L95.1,609.87 L96.37,609.39 L97.29,609.29 L98.16,608.44 L99.22,608.31 L100,608.45 L100.75,607.38 L101.63,607.45 L102.63,606.63 L103.57,606.62 L104.39,605.42 L105.33,605 L105.72,604.23 L106.47,603.24 L107.09,602.65 L107.95,601.89 L108.55,601.64 L109.33,600.23 L109.85,599.27 L110.43,598.45 L111.27,597.85 L111.71,595.96 L112.23,595.24 L112.5,595.1 L112.99,594.22 L113.56,593.57 L114.24,591.91 L114.4,591.81 L115.04,590.41 L115.58,589.83 L115.9,588.57 L116.18,587.52 L116.66,586.79 L117.32,585.38 L117.79,584.36 L118.01,583.87 L118.63,583.13 L119.16,581.98 L119.37,581.18 L119.79,580.04 L120.61,579.34 L121.05,577.96 L121.42,577.28 L121.62,576.42 L122.42,574.97 L122.82,573.97 L123.04,573.21 L123.39,572.3 L124.24,570.85 L124.65,569.69 L125.03,568.91 L125.48,568.11 L125.85,566.83 L125.85,566.65 L126.46,565.53 L126.63,564.12 L127.2,562.97 L127.87,562.6 L128.22,561.57 L128.3,560.06 L128.81,559.16 L129.06,558.55 L129.36,557.29 L129.49,556.78 L129.79,555.86 L130.17,554.72 L130.5,554.03 L130.95,552.75 L131.22,552.08 L131.88,550.97 L131.88,549.9 L132.26,549.16 L132.84,548.18 L132.91,546.97 L133.34,546.09 L133.69,545.59 L134.1,544.29 L134.53,543.26 L134.92,541.98 L135.21,541.48 L135.35,540.11 L135.77,538.67 L135.93,538.35 L136.29,537.33 L136.6,536.04 L136.9,535.21 L137.57,533.92 L137.8,533.54 L138.01,532.13 L138.54,531.47 L138.63,530.29 L138.95,528.8 L139.68,527.76 L139.99,527.42 L140.23,526.44 L140.57,525.11 L140.85,524.05 L141.41,523.6 L141.75,522.14 L142.04,521.23 L142.51,520.74 L142.98,519.78 L143.23,518.92 L143.35,517.84 L143.72,516.72 L144.15,516.32 L144.52,515.38 L145.35,514.02 L145.72,512.74 L145.84,511.76 L146.24,510.8 L147.03,509.92 L147.38,509.12 L147.63,508.29 L148.12,507.82 L148.68,506.5 L149.24,505.56 L149.69,504.27 L150.02,503.86 L150.54,502.5 L151.32,501.67 L151.88,500.93 L152.19,499.38 L152.74,498.78 L153.38,497.91 L153.84,497.25 L154.29,496.36 L155.04,494.83 L155.61,494.57 L156.15,493.19 L156.44,492.12 L157.07,491.89 L157.63,490.26 L158.16,489.47 L158.86,489.25 L159.54,487.82 L159.83,487.05 L160.58,486.9 L161.05,486.04 L161.67,484.94 L162.27,483.66 L163.1,483.21 L163.51,482.37 L164.12,481.46 L164.44,480.04 L165.05,479.65 L165.91,478.45 L166.4,477.63 L167.08,477.45 L167.48,476.79 L168.41,475.2 L168.95,474.43 L169.79,474.33 L170.22,472.9 L171.1,472.76 L171.82,471.67 L172.21,471.09 L173.03,470.56 L173.73,469.81 L174.7,468.87 L175.44,467.73 L175.78,467.47 L176.53,466.79 L177.48,465.21 L178.19,465.09 L179.06,464.34 L179.82,463.9 L180.79,463.38 L181.59,462.75 L182.67,462.07 L183.43,461.77 L184.78,460.99 L185.58,460.54 L186.79,461.06 L187.58,460.29 L188.21,459.66 L189.59,459.91 L190.79,459.67 L191.58,458.86 L192.65,458.71 L193.67,458.98 L194.65,458.85 L195.8,457.79 L196.85,458.11 L197.84,457.26 L199,457.46 L199.89,456.94 L200.71,456.6 L201.83,456.71 L202.84,456.4 L204.16,456.98 L205.3,456.6 L206.31,457.06 L207.09,457.46 L208.26,456.98 L209.19,457.78 L210.17,457.4 L211.59,457.44 L212.83,457.23 L213.87,457.71 L215.06,457.79 L216,457.92 L217.4,457.9 L218.32,458.33 L219.18,457.99 L220.49,458.32 L221.17,458.88 L222.13,459.6 L222.76,459.91 L223.11,461.1 L223.73,462 L224.37,462.51 L224.73,464.04 L225.21,464.61 L225.36,465.31 L225.61,466.5 L225.91,467.71 L226.35,468.84 L226.52,469.52 L226.64,471.05 L227.06,471.8 L226.91,472.88 L227.41,474.94 L227.42,475.7 L227.82,476.62 L228.12,476.81 L228.26,477.72 L228.15,478.85 L228.51,479.48 L228.61,480.52 L228.75,481.43 L228.9,482.54 L229.23,483.76 L229.6,485.02 L229.71,485.88 L229.96,486.93 L229.96,488.07 L230.38,489.36 L230.38,490.87 L230.65,491.98 L230.78,492.8 L230.72,493.99 L231.08,494.46 L231.05,495.56 L231.04,496.59 L231.52,497.33 L231.45,498.23 L231.76,499.37 L231.63,500.71 L231.75,501.94 L231.89,502.71 L231.96,503.79 L232.16,504.43 L232.46,505.57 L232.44,507.12 L232.51,507.9 L232.63,509.6 L232.55,510.59 L232.93,511.31 L233.07,512.54 L233.27,513.92 L233.25,514.42 L233.3,515.99 L233.47,516.28 L233.64,517.35 L233.65,518.87 L233.89,519.81 L234.11,520.92 L234.29,522.16 L234.09,523.19 L234.25,524.41 L234.49,525 L234.4,526.46 L234.6,526.78 L234.92,527.85 L234.7,528.94 L235.09,530.49 L235.14,531.89 L235.25,532.29 L235.6,533.25 L235.3,534.4 L235.83,535.61 L235.67,536.59 L235.8,537.95 L236.04,538.52 L235.96,540 L236.25,540.68 L236.2,542.07 L236.47,542.96 L236.66,543.62 L236.49,544.77 L237.03,545.22 L236.84,546.95 L237.27,547.67 L237.58,548.72 L237.56,550.18 L237.62,551.44 L237.83,552.6 L238.15,552.97 L238.11,554.49 L238.27,555.56 L238.31,556.12 L238.7,557.2 L238.73,558.35 L239.08,559.53 L239.25,560.33 L239.35,561.6 L239.71,562.55 L239.92,563.25 L239.76,564.18 L240.04,565.01 L240.32,565.92 L240.57,567.18 L240.71,568.46 L241.17,569.71 L241.2,570.79 L241.48,571.47 L241.72,572.39 L241.85,573.98 L242.3,574.68 L242.57,575.51 L242.86,576.05 L242.9,577.52 L243.38,578.06 L243.57,579.29 L244.21,580.74 L244.11,581.33 L244.57,582.1 L244.88,583.87 L245.5,584.22 L245.78,585.09 L246.07,586.03 L246.43,587.46 L246.96,588.39 L247.3,589.01 L247.56,589.87 L247.7,591.43 L248.08,591.69 L248.62,592.33 L249.41,593.84 L249.73,594.61 L250.47,595.06 L250.93,596.62 L251.47,597.13 L251.9,597.58 L252.49,598.49 L253.21,599.57 L253.88,599.66 L254.96,600.61 L255.53,601.58 L256.21,601.68 L257.09,602.28 L257.75,603.09 L258.65,602.99 L259.45,603.45 L260.22,604.04 L260.93,604.67 L261.76,605.09 L262.86,605.05 L263.74,605.39 L264.93,605.81 L266.27,605.65 L267.25,606.67 L268.67,606.76 L269.67,607 L270.13,607.02 L271.32,606.61 L271.77,607.51 L272.92,607.47 L273.82,607.51 L274.45,607.22 L275.27,607.78 L276.49,608.19 L277.24,607.53 L278.27,608.35 L279.19,608.39 L280.37,608.39 L281.15,608.51 L282.32,608.54 L283.23,608.23 L284.54,608.29 L285.63,608.22 L286.62,608.78 L287.79,609.17 L288.96,608.64 L290.16,609.02 L291.31,609.4 L292.48,609.12 L294.01,608.92 L294.98,609.21 L296.12,609.57 L297.03,609.49 L297.62,609.73 L298.63,608.96 L299.8,609.01 L300.63,609.22 L302.12,609.34 L303.15,609.99 L303.98,609.28 L305.11,609.8 L306.47,609.56 L307.67,609.38 L308.51,609.68 L309.98,610.16 L311.29,610.26 L312.5,610.03 L313.45,609.57 L314.7,610.38 L315.98,610.02 L317.1,610.32 L318.42,610.31 L319.4,610.56 L320.71,609.74 L321.83,610.03 L322.5,610.07 L323.63,609.83 L324.99,610.2 L325.7,610.54 L326.74,610.23 L327.79,610.24 L328.86,610.15 L329.78,610.41 L330.45,610.32 L331.46,610.26 L331.99,610.31 L332.55,610.11 L333.45,610.84 L333.88,610.53 L334.64,610.2" fill="none" stroke="#ed1c24" stroke-width="2.3" stroke-linejoin="round" stroke-linecap="round"/>
<text x="359.5" y="424.7" font-size="15.5" text-anchor="start" font-weight="bold" fill="#000">g</text>
<line x1="401.6" y1="434.4" x2="401.6" y2="622" stroke="#231f20" stroke-width="1.35" stroke-linecap="butt"/>
<line x1="396" y1="622" x2="401.6" y2="622" stroke="#231f20" stroke-width="1.35" stroke-linecap="butt"/>
<text x="390.7" y="625.3" font-size="8" text-anchor="end" font-weight="normal" fill="#231f20">0</text>
<line x1="396" y1="590.74" x2="401.6" y2="590.74" stroke="#231f20" stroke-width="1.35" stroke-linecap="butt"/>
<text x="390.7" y="594.03" font-size="8" text-anchor="end" font-weight="normal" fill="#231f20">5</text>
<line x1="396" y1="559.47" x2="401.6" y2="559.47" stroke="#231f20" stroke-width="1.35" stroke-linecap="butt"/>
<text x="390.7" y="562.77" font-size="8" text-anchor="end" font-weight="normal" fill="#231f20">10</text>
<line x1="396" y1="528.21" x2="401.6" y2="528.21" stroke="#231f20" stroke-width="1.35" stroke-linecap="butt"/>
<text x="390.7" y="531.5" font-size="8" text-anchor="end" font-weight="normal" fill="#231f20">15</text>
<line x1="396" y1="496.94" x2="401.6" y2="496.94" stroke="#231f20" stroke-width="1.35" stroke-linecap="butt"/>
<text x="390.7" y="500.24" font-size="8" text-anchor="end" font-weight="normal" fill="#231f20">20</text>
<line x1="396" y1="465.68" x2="401.6" y2="465.68" stroke="#231f20" stroke-width="1.35" stroke-linecap="butt"/>
<text x="390.7" y="468.98" font-size="8" text-anchor="end" font-weight="normal" fill="#231f20">25</text>
<line x1="396" y1="434.41" x2="401.6" y2="434.41" stroke="#231f20" stroke-width="1.35" stroke-linecap="butt"/>
<text x="390.7" y="437.71" font-size="8" text-anchor="end" font-weight="normal" fill="#231f20">30</text>
<line x1="396" y1="622" x2="579.6" y2="622" stroke="#231f20" stroke-width="1.35" stroke-linecap="butt"/>
<text transform="translate(376,530.3) rotate(-90)" font-size="8" text-anchor="middle" fill="#231f20"><tspan>Mitochondrial Ca</tspan><tspan font-size="4.9" dy="-3">2+</tspan><tspan dy="3"> efflux (µM/sec)</tspan></text>
<text x="439.9" y="632.1" font-size="8" text-anchor="middle" font-weight="normal" fill="#231f20">Control</text>
<text x="532.3" y="632.1" font-size="8" text-anchor="middle" font-weight="normal" fill="#231f20">TMEM65</text>
<rect x="410.05" y="584.65" width="22.9" height="37.35" fill="#939598" stroke="#231f20" stroke-width="1.3"/>
<rect x="445.05" y="588.65" width="22.3" height="33.35" fill="#00aeef" stroke="#231f20" stroke-width="1.3"/>
<rect x="501.45" y="516.65" width="22.2" height="105.35" fill="#ed1c24" stroke="#231f20" stroke-width="1.3"/>
<rect x="536.75" y="525.25" width="22.1" height="96.75" fill="#f26522" stroke="#231f20" stroke-width="1.3"/>
<line x1="421.5" y1="576" x2="421.5" y2="592" stroke="#231f20" stroke-width="1.3" stroke-linecap="butt"/>
<line x1="415.9" y1="576" x2="427.1" y2="576" stroke="#231f20" stroke-width="1.3" stroke-linecap="butt"/>
<line x1="415.9" y1="592" x2="427.1" y2="592" stroke="#231f20" stroke-width="1.3" stroke-linecap="butt"/>
<line x1="456.2" y1="585" x2="456.2" y2="591" stroke="#231f20" stroke-width="1.3" stroke-linecap="butt"/>
<line x1="450.6" y1="585" x2="461.8" y2="585" stroke="#231f20" stroke-width="1.3" stroke-linecap="butt"/>
<line x1="450.6" y1="591" x2="461.8" y2="591" stroke="#231f20" stroke-width="1.3" stroke-linecap="butt"/>
<line x1="512.55" y1="468.5" x2="512.55" y2="563.3" stroke="#231f20" stroke-width="1.3" stroke-linecap="butt"/>
<line x1="506.95" y1="468.5" x2="518.15" y2="468.5" stroke="#231f20" stroke-width="1.3" stroke-linecap="butt"/>
<line x1="506.95" y1="563.3" x2="518.15" y2="563.3" stroke="#231f20" stroke-width="1.3" stroke-linecap="butt"/>
<line x1="547.8" y1="499" x2="547.8" y2="550.3" stroke="#231f20" stroke-width="1.3" stroke-linecap="butt"/>
<line x1="542.2" y1="499" x2="553.4" y2="499" stroke="#231f20" stroke-width="1.3" stroke-linecap="butt"/>
<line x1="542.2" y1="550.3" x2="553.4" y2="550.3" stroke="#231f20" stroke-width="1.3" stroke-linecap="butt"/>
<circle cx="417" cy="573" r="2.2" fill="#000"/>
<circle cx="422" cy="575" r="2.2" fill="#000"/>
<circle cx="416.4" cy="583" r="2.2" fill="#000"/>
<circle cx="421" cy="581.6" r="2.2" fill="#000"/>
<circle cx="426" cy="581.6" r="2.2" fill="#000"/>
<circle cx="416.6" cy="592" r="2.2" fill="#000"/>
<circle cx="421" cy="593.6" r="2.2" fill="#000"/>
<circle cx="425.4" cy="589.6" r="2.2" fill="#000"/>
<circle cx="448" cy="588" r="2.2" fill="#000"/>
<circle cx="452.6" cy="584.6" r="2.2" fill="#000"/>
<circle cx="460" cy="583.6" r="2.2" fill="#000"/>
<circle cx="465" cy="587.6" r="2.2" fill="#000"/>
<circle cx="452" cy="591.6" r="2.2" fill="#000"/>
<circle cx="456.6" cy="592.4" r="2.2" fill="#000"/>
<circle cx="461" cy="591" r="2.2" fill="#000"/>
<circle cx="456.2" cy="588.6" r="2.2" fill="#000"/>
<circle cx="512.7" cy="455.7" r="2.2" fill="#000"/>
<circle cx="512.7" cy="490.9" r="2.2" fill="#000"/>
<circle cx="512.7" cy="516.6" r="2.2" fill="#000"/>
<circle cx="512.7" cy="533.3" r="2.2" fill="#000"/>
<circle cx="512.7" cy="583" r="2.2" fill="#000"/>
<circle cx="544.1" cy="488.4" r="2.2" fill="#000"/>
<circle cx="548" cy="491.9" r="2.2" fill="#000"/>
<circle cx="547.8" cy="522.4" r="2.2" fill="#000"/>
<circle cx="547.8" cy="531" r="2.2" fill="#000"/>
<circle cx="547.8" cy="539" r="2.2" fill="#000"/>
<circle cx="542.5" cy="550.3" r="2.2" fill="#000"/>
<circle cx="548" cy="550.3" r="2.2" fill="#000"/>
<polyline points="421.6,444.4 421.6,440 512.7,440 512.7,444.4" fill="none" stroke="#231f20" stroke-width="1.3"/>
<polygon points="467.15,433.5 467.65,434.71 468.96,434.81 467.96,435.66 468.27,436.94 467.15,436.25 466.03,436.94 466.34,435.66 465.34,434.81 466.65,434.71" fill="#231f20"/>
<polyline points="456.4,433 456.4,428.6 547.3,428.6 547.3,433" fill="none" stroke="#231f20" stroke-width="1.3"/>
<polygon points="501.85,422.1 502.35,423.31 503.66,423.41 502.66,424.26 502.97,425.54 501.85,424.85 500.73,425.54 501.04,424.26 500.04,423.41 501.35,423.31" fill="#231f20"/>
<rect x="590.3" y="421" width="9.4" height="9.4" fill="#939598" stroke="#231f20" stroke-width="0.8"/>
<text x="603" y="427.7" font-size="8" text-anchor="start" font-weight="normal" fill="#231f20">WT</text>
<rect x="590.3" y="444.8" width="9.4" height="9.4" fill="#00aeef" stroke="#231f20" stroke-width="0.8"/>
<text x="603" y="451.7" font-size="8" text-anchor="start" font-weight="normal" fill="#231f20">NCLX-KO (single)</text>
<rect x="590.3" y="468.2" width="9.4" height="9.4" fill="#ed1c24" stroke="#231f20" stroke-width="0.8"/>
<text x="603" y="470.8" font-size="8" text-anchor="start" font-weight="normal" fill="#231f20">WT</text>
<text x="603" y="479.5" font-size="8" text-anchor="start" font-weight="normal" fill="#231f20">+ TMEM65</text>
<rect x="590.3" y="491.7" width="9.4" height="9.4" fill="#f26522" stroke="#231f20" stroke-width="0.8"/>
<text x="603" y="494.3" font-size="8" text-anchor="start" font-weight="normal" fill="#231f20">NCLX-KO (single)</text>
<text x="603" y="503" font-size="8" text-anchor="start" font-weight="normal" fill="#231f20">+ TMEM65</text>
</svg>
</body></html>
